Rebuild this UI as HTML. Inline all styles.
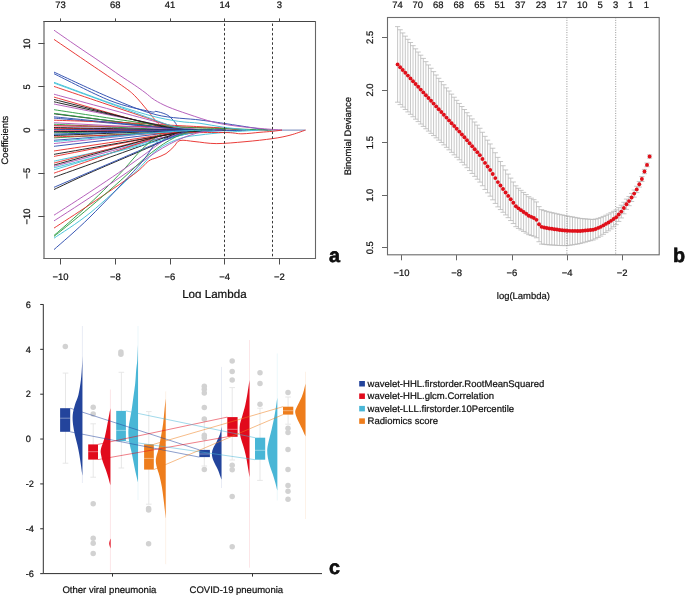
<!DOCTYPE html>
<html><head><meta charset="utf-8"><title>Figure</title>
<style>html,body{margin:0;padding:0;background:#fff;}body{width:685px;height:596px;overflow:hidden;font-family:"Liberation Sans",sans-serif;}svg{display:block;will-change:transform;text-rendering:geometricPrecision;}</style>
</head><body>
<svg width="685" height="596" viewBox="0 0 685 596" font-family='"Liberation Sans", sans-serif' fill="#111"><rect width="685" height="596" fill="#fff"/><style>text{stroke:#111;stroke-width:0.22px;}</style><g><line x1="232" y1="130.1" x2="305.5" y2="130.1" stroke="#8e9cc6" stroke-width="1.4"/><line x1="172" y1="130.3" x2="236" y2="130.3" stroke="#33427e" stroke-width="1.3"/><path d="M54,161.17 C55.3,160.89 59.19,160.05 61.78,159.5 C64.38,158.94 66.97,158.38 69.57,157.83 C72.16,157.27 74.76,156.71 77.35,156.16 C79.94,155.6 82.54,155.04 85.13,154.49 C87.73,153.93 90.32,153.37 92.92,152.82 C95.51,152.26 98.1,151.7 100.7,151.15 C103.29,150.59 105.89,150.03 108.48,149.48 C111.08,148.92 113.67,148.36 116.27,147.81 C118.86,147.25 121.45,146.7 124.05,146.14 C126.64,145.58 129.24,145.03 131.83,144.47 C134.43,143.91 137.02,143.36 139.62,142.8 C142.21,142.24 144.8,141.69 147.4,141.13 C149.99,140.57 152.59,140.01 155.18,139.46 C157.78,138.91 160.37,138.35 162.97,137.84 C165.56,137.32 168.15,136.83 170.75,136.37 C173.34,135.9 175.94,135.46 178.53,135.05 C181.13,134.64 183.72,134.25 186.31,133.89 C188.91,133.53 191.5,133.19 194.1,132.89 C196.69,132.58 199.29,132.29 201.88,132.03 C204.48,131.78 207.07,131.54 209.66,131.34 C212.26,131.13 214.85,130.95 217.45,130.8 C220.04,130.64 222.64,130.51 225.23,130.41 C227.83,130.31 230.42,130.23 233.01,130.18 C235.61,130.13 239.5,130.11 240.8,130.1" fill="none" stroke="#45c2d8" stroke-width="0.95"/><path d="M54,146.32 C55.17,146.19 58.66,145.77 61,145.5 C63.33,145.22 65.66,144.95 67.99,144.67 C70.33,144.4 72.66,144.12 74.99,143.84 C77.32,143.57 79.66,143.29 81.99,143.02 C84.32,142.74 86.65,142.47 88.98,142.19 C91.32,141.91 93.65,141.64 95.98,141.36 C98.31,141.09 100.65,140.81 102.98,140.54 C105.31,140.26 107.64,139.99 109.98,139.71 C112.31,139.43 114.64,139.16 116.97,138.88 C119.31,138.61 121.64,138.33 123.97,138.06 C126.3,137.78 128.63,137.5 130.97,137.23 C133.3,136.95 135.63,136.68 137.96,136.4 C140.3,136.13 142.63,135.85 144.96,135.58 C147.29,135.3 149.63,135.02 151.96,134.75 C154.29,134.47 156.62,134.19 158.95,133.92 C161.29,133.65 163.62,133.37 165.95,133.12 C168.28,132.87 170.62,132.63 172.95,132.41 C175.28,132.19 177.61,131.99 179.95,131.8 C182.28,131.61 184.61,131.44 186.94,131.28 C189.27,131.12 191.61,130.98 193.94,130.86 C196.27,130.73 198.6,130.62 200.94,130.52 C203.27,130.43 205.6,130.35 207.93,130.29 C210.27,130.23 212.6,130.18 214.93,130.15 C217.26,130.12 220.76,130.11 221.93,130.1" fill="none" stroke="#2f4fb0" stroke-width="0.95"/><path d="M54,113.79 C55.17,113.94 58.68,114.37 61.02,114.67 C63.36,114.96 65.7,115.25 68.04,115.54 C70.38,115.84 72.72,116.13 75.06,116.42 C77.4,116.71 79.74,117.01 82.08,117.3 C84.42,117.59 86.76,117.88 89.1,118.17 C91.44,118.47 93.78,118.76 96.12,119.05 C98.46,119.34 100.8,119.64 103.14,119.93 C105.48,120.22 107.82,120.51 110.16,120.81 C112.5,121.1 114.84,121.39 117.18,121.68 C119.52,121.98 121.86,122.27 124.2,122.56 C126.54,122.85 128.88,123.15 131.22,123.44 C133.56,123.73 135.9,124.02 138.24,124.31 C140.58,124.61 142.92,124.9 145.26,125.19 C147.6,125.48 149.94,125.77 152.28,126.04 C154.62,126.31 156.96,126.57 159.3,126.81 C161.64,127.06 163.98,127.29 166.32,127.5 C168.66,127.72 171,127.92 173.34,128.11 C175.68,128.3 178.02,128.48 180.36,128.64 C182.7,128.8 185.04,128.95 187.38,129.09 C189.72,129.22 192.06,129.34 194.4,129.45 C196.74,129.56 199.08,129.65 201.42,129.73 C203.76,129.82 206.1,129.88 208.44,129.94 C210.78,129.99 213.12,130.03 215.46,130.06 C217.8,130.09 221.31,130.09 222.48,130.1" fill="none" stroke="#1e1e1e" stroke-width="0.95"/><path d="M54,39.4 C60,43.48 78.72,56.23 90,63.9 C101.28,71.57 114.32,80.17 121.7,85.4 C129.08,90.63 129.97,91.08 134.3,95.3 C138.63,99.52 143.78,106.05 147.7,110.7 C151.62,115.35 155,120.28 157.8,123.2 C160.6,126.12 162.13,127.13 164.5,128.2 C166.87,129.27 169.08,129.28 172,129.6 C174.92,129.92 180.33,130.02 182,130.1" fill="none" stroke="#e8332f" stroke-width="0.95"/><path d="M54,94.2 C55.09,94.49 58.37,95.38 60.56,95.97 C62.74,96.56 64.93,97.16 67.11,97.75 C69.3,98.34 71.49,98.93 73.67,99.52 C75.86,100.11 78.04,100.7 80.23,101.29 C82.42,101.89 84.6,102.48 86.79,103.07 C88.97,103.66 91.16,104.25 93.34,104.84 C95.53,105.43 97.72,106.02 99.9,106.62 C102.09,107.21 104.27,107.8 106.46,108.39 C108.65,108.98 110.83,109.57 113.02,110.16 C115.2,110.75 117.39,111.35 119.57,111.94 C121.76,112.53 123.95,113.12 126.13,113.71 C128.32,114.3 130.5,114.89 132.69,115.49 C134.88,116.08 137.06,116.67 139.25,117.26 C141.43,117.85 143.62,118.44 145.8,119.03 C147.99,119.62 150.18,120.22 152.36,120.81 C154.55,121.4 156.73,121.99 158.92,122.58 C161.11,123.17 163.29,123.78 165.48,124.32 C167.66,124.87 169.85,125.38 172.03,125.86 C174.22,126.33 176.41,126.76 178.59,127.15 C180.78,127.55 182.96,127.9 185.15,128.21 C187.34,128.53 189.52,128.8 191.71,129.04 C193.89,129.27 196.08,129.47 198.26,129.63 C200.45,129.79 202.64,129.9 204.82,129.98 C207.01,130.06 210.29,130.08 211.38,130.1" fill="none" stroke="#b25ab8" stroke-width="0.95"/><path d="M54,169.8 C55.15,169.46 58.61,168.43 60.91,167.75 C63.21,167.06 65.52,166.38 67.82,165.69 C70.12,165.01 72.43,164.33 74.73,163.64 C77.04,162.96 79.34,162.28 81.64,161.59 C83.95,160.91 86.25,160.22 88.55,159.54 C90.86,158.86 93.16,158.17 95.46,157.49 C97.77,156.8 100.07,156.12 102.37,155.44 C104.68,154.75 106.98,154.07 109.29,153.38 C111.59,152.7 113.89,152.02 116.2,151.33 C118.5,150.65 120.8,149.97 123.11,149.28 C125.41,148.6 127.71,147.91 130.02,147.23 C132.32,146.55 134.62,145.86 136.93,145.18 C139.23,144.49 141.53,143.81 143.84,143.13 C146.14,142.44 148.45,141.76 150.75,141.07 C153.05,140.39 155.36,139.69 157.66,139.03 C159.96,138.38 162.27,137.75 164.57,137.16 C166.87,136.57 169.18,136.02 171.48,135.5 C173.78,134.99 176.09,134.51 178.39,134.07 C180.7,133.63 183,133.22 185.3,132.86 C187.61,132.49 189.91,132.16 192.21,131.86 C194.52,131.57 196.82,131.31 199.12,131.09 C201.43,130.87 203.73,130.69 206.03,130.54 C208.34,130.39 210.64,130.28 212.94,130.21 C215.25,130.14 218.7,130.12 219.86,130.1" fill="none" stroke="#45c2d8" stroke-width="0.95"/><path d="M54,163.07 C55.11,162.78 58.46,161.93 60.69,161.36 C62.92,160.8 65.15,160.23 67.37,159.66 C69.6,159.09 71.83,158.53 74.06,157.96 C76.29,157.39 78.52,156.82 80.75,156.26 C82.98,155.69 85.21,155.12 87.44,154.55 C89.67,153.99 91.9,153.42 94.12,152.85 C96.35,152.28 98.58,151.72 100.81,151.15 C103.04,150.58 105.27,150.01 107.5,149.45 C109.73,148.88 111.96,148.31 114.19,147.74 C116.42,147.18 118.65,146.61 120.87,146.04 C123.1,145.47 125.33,144.9 127.56,144.34 C129.79,143.77 132.02,143.2 134.25,142.63 C136.48,142.07 138.71,141.5 140.94,140.93 C143.17,140.36 145.4,139.8 147.62,139.23 C149.85,138.66 152.08,138.08 154.31,137.53 C156.54,136.99 158.77,136.46 161,135.97 C163.23,135.48 165.46,135.03 167.69,134.6 C169.92,134.17 172.15,133.77 174.37,133.4 C176.6,133.04 178.83,132.7 181.06,132.39 C183.29,132.09 185.52,131.81 187.75,131.57 C189.98,131.32 192.21,131.11 194.44,130.93 C196.67,130.74 198.89,130.59 201.12,130.47 C203.35,130.34 205.58,130.25 207.81,130.19 C210.04,130.13 213.38,130.12 214.5,130.1" fill="none" stroke="#e8332f" stroke-width="0.95"/><path d="M54,156.42 C55.13,156.2 58.53,155.54 60.79,155.1 C63.06,154.66 65.32,154.22 67.58,153.78 C69.85,153.35 72.11,152.91 74.38,152.47 C76.64,152.03 78.9,151.59 81.17,151.15 C83.43,150.71 85.7,150.27 87.96,149.83 C90.22,149.39 92.49,148.95 94.75,148.51 C97.02,148.07 99.28,147.63 101.54,147.19 C103.81,146.75 106.07,146.31 108.33,145.87 C110.6,145.43 112.86,145 115.13,144.56 C117.39,144.12 119.65,143.68 121.92,143.24 C124.18,142.8 126.45,142.36 128.71,141.92 C130.97,141.48 133.24,141.04 135.5,140.6 C137.77,140.16 140.03,139.72 142.29,139.28 C144.56,138.84 146.82,138.4 149.09,137.96 C151.35,137.52 153.61,137.08 155.88,136.65 C158.14,136.21 160.41,135.75 162.67,135.33 C164.93,134.9 167.2,134.48 169.46,134.1 C171.73,133.72 173.99,133.37 176.25,133.04 C178.52,132.71 180.78,132.41 183.05,132.14 C185.31,131.87 187.57,131.62 189.84,131.41 C192.1,131.19 194.37,131 196.63,130.84 C198.89,130.67 201.16,130.54 203.42,130.43 C205.68,130.32 207.95,130.24 210.21,130.18 C212.48,130.13 215.87,130.11 217,130.1" fill="none" stroke="#e8332f" stroke-width="0.95"/><path d="M54,125.53 C55.2,125.57 58.79,125.69 61.19,125.77 C63.58,125.85 65.98,125.93 68.38,126.01 C70.77,126.09 73.17,126.17 75.56,126.25 C77.96,126.33 80.36,126.41 82.75,126.49 C85.15,126.57 87.54,126.65 89.94,126.73 C92.34,126.81 94.73,126.89 97.13,126.97 C99.52,127.06 101.92,127.14 104.32,127.22 C106.71,127.3 109.11,127.38 111.5,127.46 C113.9,127.54 116.3,127.62 118.69,127.7 C121.09,127.78 123.48,127.86 125.88,127.94 C128.28,128.02 130.67,128.1 133.07,128.18 C135.46,128.26 137.86,128.34 140.26,128.42 C142.65,128.5 145.05,128.58 147.44,128.66 C149.84,128.75 152.24,128.83 154.63,128.91 C157.03,128.98 159.43,129.06 161.82,129.13 C164.22,129.2 166.61,129.27 169.01,129.34 C171.41,129.4 173.8,129.46 176.2,129.52 C178.59,129.57 180.99,129.62 183.39,129.67 C185.78,129.72 188.18,129.76 190.57,129.8 C192.97,129.84 195.37,129.88 197.76,129.91 C200.16,129.94 202.55,129.97 204.95,129.99 C207.35,130.02 209.74,130.04 212.14,130.05 C214.53,130.07 216.93,130.08 219.33,130.09 C221.72,130.1 225.32,130.1 226.51,130.1" fill="none" stroke="#b25ab8" stroke-width="0.95"/><path d="M54,143.56 C55.07,143.45 58.3,143.1 60.45,142.87 C62.6,142.64 64.75,142.4 66.9,142.17 C69.05,141.94 71.2,141.71 73.35,141.48 C75.5,141.24 77.64,141.01 79.79,140.78 C81.94,140.55 84.09,140.32 86.24,140.08 C88.39,139.85 90.54,139.62 92.69,139.39 C94.84,139.16 96.99,138.92 99.14,138.69 C101.29,138.46 103.44,138.23 105.59,138 C107.74,137.77 109.89,137.53 112.04,137.3 C114.19,137.07 116.34,136.84 118.49,136.61 C120.64,136.37 122.79,136.14 124.93,135.91 C127.08,135.68 129.23,135.45 131.38,135.21 C133.53,134.98 135.68,134.75 137.83,134.52 C139.98,134.29 142.13,134.05 144.28,133.82 C146.43,133.59 148.58,133.35 150.73,133.13 C152.88,132.91 155.03,132.69 157.18,132.49 C159.33,132.29 161.48,132.11 163.63,131.93 C165.78,131.76 167.93,131.6 170.08,131.45 C172.22,131.3 174.37,131.16 176.52,131.04 C178.67,130.91 180.82,130.8 182.97,130.7 C185.12,130.6 187.27,130.51 189.42,130.44 C191.57,130.36 193.72,130.3 195.87,130.25 C198.02,130.2 200.17,130.16 202.32,130.14 C204.47,130.11 207.69,130.11 208.77,130.1" fill="none" stroke="#b25ab8" stroke-width="0.95"/><path d="M54,128.2 C55.09,128.22 58.38,128.26 60.57,128.3 C62.76,128.33 64.95,128.36 67.13,128.39 C69.32,128.42 71.51,128.45 73.7,128.48 C75.89,128.51 78.08,128.55 80.27,128.58 C82.46,128.61 84.65,128.64 86.84,128.67 C89.02,128.7 91.21,128.73 93.4,128.76 C95.59,128.8 97.78,128.83 99.97,128.86 C102.16,128.89 104.35,128.92 106.54,128.95 C108.73,128.98 110.92,129.02 113.1,129.05 C115.29,129.08 117.48,129.11 119.67,129.14 C121.86,129.17 124.05,129.2 126.24,129.23 C128.43,129.27 130.62,129.3 132.81,129.33 C135,129.36 137.18,129.39 139.37,129.42 C141.56,129.45 143.75,129.48 145.94,129.52 C148.13,129.55 150.32,129.58 152.51,129.61 C154.7,129.64 156.89,129.67 159.07,129.7 C161.26,129.73 163.45,129.77 165.64,129.8 C167.83,129.82 170.02,129.85 172.21,129.88 C174.4,129.9 176.59,129.92 178.78,129.94 C180.97,129.97 183.15,129.98 185.34,130 C187.53,130.02 189.72,130.03 191.91,130.04 C194.1,130.06 196.29,130.07 198.48,130.08 C200.67,130.08 202.86,130.09 205.04,130.09 C207.23,130.1 210.52,130.1 211.61,130.1" fill="none" stroke="#e8332f" stroke-width="0.95"/><path d="M54,189.5 C60,186.72 73.05,180.32 90,172.8 C106.95,165.28 143.17,150.13 155.7,144.4 C168.23,138.67 161.15,140.3 165.2,138.4 C169.25,136.5 174.87,134.38 180,133 C185.13,131.62 193.33,130.58 196,130.1" fill="none" stroke="#1e1e1e" stroke-width="0.95"/><path d="M54,104.04 C55.16,104.27 58.63,104.96 60.95,105.42 C63.27,105.87 65.59,106.33 67.9,106.79 C70.22,107.25 72.54,107.71 74.85,108.17 C77.17,108.63 79.49,109.09 81.81,109.55 C84.12,110.01 86.44,110.47 88.76,110.93 C91.08,111.39 93.39,111.85 95.71,112.3 C98.03,112.76 100.34,113.22 102.66,113.68 C104.98,114.14 107.3,114.6 109.61,115.06 C111.93,115.52 114.25,115.98 116.56,116.44 C118.88,116.9 121.2,117.36 123.52,117.82 C125.83,118.28 128.15,118.73 130.47,119.19 C132.79,119.65 135.1,120.11 137.42,120.57 C139.74,121.03 142.05,121.49 144.37,121.95 C146.69,122.41 149.01,122.88 151.32,123.33 C153.64,123.77 155.96,124.21 158.27,124.61 C160.59,125.02 162.91,125.4 165.23,125.76 C167.54,126.13 169.86,126.46 172.18,126.78 C174.5,127.1 176.81,127.39 179.13,127.66 C181.45,127.93 183.76,128.18 186.08,128.41 C188.4,128.63 190.72,128.84 193.03,129.02 C195.35,129.2 197.67,129.35 199.98,129.49 C202.3,129.63 204.62,129.74 206.94,129.83 C209.25,129.92 211.57,129.99 213.89,130.03 C216.2,130.08 219.68,130.09 220.84,130.1" fill="none" stroke="#b25ab8" stroke-width="0.95"/><path d="M54,118.1 C55.06,118.2 58.25,118.48 60.37,118.67 C62.5,118.86 64.62,119.04 66.74,119.23 C68.87,119.42 70.99,119.61 73.12,119.8 C75.24,119.98 77.36,120.17 79.49,120.36 C81.61,120.55 83.74,120.74 85.86,120.92 C87.98,121.11 90.11,121.3 92.23,121.49 C94.36,121.68 96.48,121.86 98.6,122.05 C100.73,122.24 102.85,122.43 104.97,122.62 C107.1,122.8 109.22,122.99 111.35,123.18 C113.47,123.37 115.59,123.56 117.72,123.74 C119.84,123.93 121.97,124.12 124.09,124.31 C126.21,124.5 128.34,124.68 130.46,124.87 C132.59,125.06 134.71,125.25 136.83,125.44 C138.96,125.62 141.08,125.81 143.21,126 C145.33,126.19 147.45,126.38 149.58,126.56 C151.7,126.75 153.83,126.94 155.95,127.13 C158.07,127.32 160.2,127.5 162.32,127.69 C164.45,127.88 166.57,128.07 168.69,128.26 C170.82,128.44 172.94,128.64 175.07,128.81 C177.19,128.98 179.31,129.14 181.44,129.27 C183.56,129.41 185.68,129.53 187.81,129.64 C189.93,129.74 192.06,129.82 194.18,129.89 C196.3,129.96 198.43,130.01 200.55,130.05 C202.68,130.08 205.86,130.09 206.92,130.1" fill="none" stroke="#2f4fb0" stroke-width="0.95"/><path d="M54,113.36 C55.02,113.49 58.08,113.9 60.11,114.17 C62.15,114.44 64.19,114.71 66.23,114.98 C68.27,115.25 70.3,115.52 72.34,115.79 C74.38,116.06 76.42,116.33 78.46,116.6 C80.49,116.86 82.53,117.13 84.57,117.4 C86.61,117.67 88.65,117.94 90.68,118.21 C92.72,118.48 94.76,118.75 96.8,119.02 C98.84,119.29 100.87,119.56 102.91,119.83 C104.95,120.1 106.99,120.37 109.03,120.64 C111.06,120.91 113.1,121.18 115.14,121.45 C117.18,121.72 119.22,121.99 121.25,122.26 C123.29,122.53 125.33,122.8 127.37,123.07 C129.41,123.34 131.44,123.61 133.48,123.88 C135.52,124.15 137.56,124.42 139.6,124.69 C141.63,124.96 143.67,125.23 145.71,125.5 C147.75,125.77 149.79,126.04 151.82,126.31 C153.86,126.58 155.9,126.85 157.94,127.12 C159.98,127.38 162.01,127.66 164.05,127.9 C166.09,128.14 168.13,128.37 170.17,128.57 C172.2,128.78 174.24,128.96 176.28,129.12 C178.32,129.29 180.36,129.43 182.39,129.55 C184.43,129.67 186.47,129.77 188.51,129.86 C190.55,129.94 192.58,130 194.62,130.04 C196.66,130.08 199.72,130.09 200.74,130.1" fill="none" stroke="#2f9e44" stroke-width="0.95"/><path d="M54,97.05 C55,97.34 58.01,98.21 60.01,98.8 C62.02,99.38 64.02,99.96 66.03,100.54 C68.03,101.12 70.04,101.7 72.04,102.28 C74.05,102.86 76.05,103.44 78.06,104.02 C80.06,104.59 82.07,105.17 84.07,105.75 C86.08,106.32 88.08,106.9 90.09,107.47 C92.09,108.04 94.1,108.61 96.1,109.19 C98.1,109.76 100.11,110.33 102.11,110.9 C104.12,111.47 106.12,112.03 108.13,112.6 C110.13,113.17 112.14,113.73 114.14,114.29 C116.15,114.86 118.15,115.42 120.16,115.98 C122.16,116.54 124.17,117.1 126.17,117.66 C128.18,118.22 130.18,118.77 132.19,119.33 C134.19,119.88 136.2,120.43 138.2,120.98 C140.2,121.53 142.21,122.08 144.21,122.62 C146.22,123.16 148.22,123.72 150.23,124.23 C152.23,124.74 154.24,125.22 156.24,125.66 C158.25,126.11 160.25,126.52 162.26,126.89 C164.26,127.27 166.27,127.61 168.27,127.91 C170.28,128.22 172.28,128.49 174.29,128.73 C176.29,128.97 178.3,129.18 180.3,129.35 C182.3,129.53 184.31,129.67 186.31,129.78 C188.32,129.89 190.32,129.97 192.33,130.03 C194.33,130.08 197.34,130.09 198.34,130.1" fill="none" stroke="#e8332f" stroke-width="0.95"/><path d="M54,73.7 C63.33,78.18 94.1,94.32 110,100.6 C125.9,106.88 141.73,109.6 149.4,111.4 C157.07,113.2 153.37,110.97 156,111.4 C158.63,111.83 162.8,113.02 165.2,114 C167.6,114.98 168.65,115.75 170.4,117.3 C172.15,118.85 174.38,121.53 175.7,123.3 C177.02,125.07 176.58,126.77 178.3,127.9 C180.02,129.03 184.72,129.73 186,130.1" fill="none" stroke="#2f4fb0" stroke-width="0.95"/><path d="M54,166.35 C55.22,166.02 58.87,165.04 61.3,164.38 C63.74,163.73 66.17,163.08 68.6,162.42 C71.04,161.77 73.47,161.12 75.91,160.46 C78.34,159.81 80.78,159.15 83.21,158.5 C85.64,157.85 88.08,157.19 90.51,156.54 C92.95,155.88 95.38,155.23 97.81,154.58 C100.25,153.92 102.68,153.27 105.12,152.62 C107.55,151.96 109.99,151.31 112.42,150.65 C114.85,150 117.29,149.35 119.72,148.69 C122.16,148.04 124.59,147.39 127.02,146.73 C129.46,146.08 131.89,145.42 134.33,144.77 C136.76,144.12 139.19,143.46 141.63,142.81 C144.06,142.15 146.5,141.49 148.93,140.85 C151.37,140.21 153.8,139.57 156.23,138.98 C158.67,138.39 161.1,137.83 163.54,137.29 C165.97,136.76 168.4,136.26 170.84,135.78 C173.27,135.31 175.71,134.87 178.14,134.45 C180.57,134.04 183.01,133.65 185.44,133.3 C187.88,132.94 190.31,132.62 192.75,132.32 C195.18,132.02 197.61,131.76 200.05,131.52 C202.48,131.28 204.92,131.08 207.35,130.9 C209.78,130.72 212.22,130.57 214.65,130.46 C217.09,130.34 219.52,130.25 221.96,130.19 C224.39,130.13 228.04,130.11 229.26,130.1" fill="none" stroke="#b25ab8" stroke-width="0.95"/><path d="M54,137.87 C55.14,137.81 58.55,137.62 60.83,137.5 C63.1,137.37 65.38,137.25 67.66,137.13 C69.93,137.01 72.21,136.88 74.49,136.76 C76.76,136.64 79.04,136.51 81.31,136.39 C83.59,136.27 85.87,136.14 88.14,136.02 C90.42,135.9 92.7,135.77 94.97,135.65 C97.25,135.53 99.52,135.4 101.8,135.28 C104.08,135.16 106.35,135.04 108.63,134.91 C110.91,134.79 113.18,134.67 115.46,134.54 C117.73,134.42 120.01,134.3 122.29,134.17 C124.56,134.05 126.84,133.93 129.12,133.8 C131.39,133.68 133.67,133.56 135.94,133.43 C138.22,133.31 140.5,133.19 142.77,133.07 C145.05,132.94 147.32,132.82 149.6,132.7 C151.88,132.57 154.15,132.45 156.43,132.33 C158.71,132.2 160.98,132.08 163.26,131.96 C165.53,131.83 167.81,131.71 170.09,131.59 C172.36,131.47 174.64,131.34 176.92,131.22 C179.19,131.1 181.47,130.98 183.74,130.88 C186.02,130.77 188.3,130.68 190.57,130.6 C192.85,130.51 195.13,130.44 197.4,130.38 C199.68,130.32 201.95,130.27 204.23,130.22 C206.51,130.18 208.78,130.15 211.06,130.13 C213.34,130.11 216.75,130.11 217.89,130.1" fill="none" stroke="#2f9e44" stroke-width="0.95"/><path d="M54,124.23 C54.96,124.28 57.83,124.42 59.75,124.51 C61.66,124.6 63.58,124.7 65.5,124.79 C67.41,124.88 69.33,124.98 71.24,125.07 C73.16,125.16 75.08,125.25 76.99,125.35 C78.91,125.44 80.82,125.53 82.74,125.63 C84.66,125.72 86.57,125.81 88.49,125.91 C90.4,126 92.32,126.09 94.24,126.18 C96.15,126.28 98.07,126.37 99.98,126.46 C101.9,126.56 103.82,126.65 105.73,126.74 C107.65,126.84 109.56,126.93 111.48,127.02 C113.4,127.12 115.31,127.21 117.23,127.3 C119.15,127.39 121.06,127.49 122.98,127.58 C124.89,127.67 126.81,127.77 128.73,127.86 C130.64,127.95 132.56,128.05 134.47,128.14 C136.39,128.23 138.31,128.32 140.22,128.42 C142.14,128.51 144.05,128.6 145.97,128.7 C147.89,128.79 149.8,128.88 151.72,128.98 C153.63,129.07 155.55,129.16 157.47,129.25 C159.38,129.34 161.3,129.43 163.21,129.51 C165.13,129.59 167.05,129.66 168.96,129.72 C170.88,129.79 172.79,129.84 174.71,129.89 C176.63,129.94 178.54,129.97 180.46,130.01 C182.37,130.04 184.29,130.06 186.21,130.08 C188.12,130.09 191,130.1 191.95,130.1" fill="none" stroke="#2f9e44" stroke-width="0.95"/><path d="M54,125.8 C65,125.88 100.67,126.12 120,126.3 C139.33,126.48 156.67,126.68 170,126.9 C183.33,127.12 190.33,127.32 200,127.6 C209.67,127.88 220,128.18 228,128.6 C236,129.02 244.67,129.85 248,130.1" fill="none" stroke="#e8332f" stroke-width="0.95"/><path d="M54,72.1 C63.33,76.35 93,90.5 110,97.6 C127,104.7 141,110.97 156,114.7 C171,118.43 188.67,118.55 200,120 C211.33,121.45 214.33,121.97 224,123.4 C233.67,124.83 250.67,127.48 258,128.6 C265.33,129.72 266.33,129.85 268,130.1" fill="none" stroke="#2f4fb0" stroke-width="0.95"/><path d="M54,86.43 C55.02,86.78 58.06,87.81 60.09,88.49 C62.12,89.18 64.15,89.87 66.18,90.56 C68.21,91.24 70.24,91.93 72.27,92.62 C74.3,93.3 76.33,93.99 78.36,94.68 C80.39,95.37 82.42,96.05 84.45,96.74 C86.49,97.43 88.52,98.11 90.55,98.8 C92.58,99.49 94.61,100.18 96.64,100.86 C98.67,101.55 100.7,102.24 102.73,102.92 C104.76,103.61 106.79,104.3 108.82,104.99 C110.85,105.67 112.88,106.36 114.91,107.05 C116.94,107.73 118.97,108.42 121,109.11 C123.03,109.8 125.06,110.48 127.09,111.17 C129.12,111.86 131.15,112.55 133.18,113.23 C135.21,113.92 137.24,114.61 139.27,115.29 C141.3,115.98 143.33,116.67 145.36,117.36 C147.39,118.04 149.43,118.73 151.46,119.42 C153.49,120.1 155.52,120.79 157.55,121.48 C159.58,122.17 161.61,122.87 163.64,123.54 C165.67,124.22 167.7,124.92 169.73,125.53 C171.76,126.13 173.79,126.69 175.82,127.17 C177.85,127.66 179.88,128.09 181.91,128.45 C183.94,128.82 185.97,129.12 188,129.37 C190.03,129.61 192.06,129.8 194.09,129.92 C196.12,130.04 199.17,130.07 200.18,130.1" fill="none" stroke="#e8332f" stroke-width="0.95"/><path d="M54,132.86 C55.19,132.84 58.77,132.77 61.16,132.72 C63.54,132.67 65.93,132.62 68.32,132.57 C70.7,132.53 73.09,132.48 75.47,132.43 C77.86,132.38 80.24,132.34 82.63,132.29 C85.02,132.24 87.4,132.19 89.79,132.14 C92.17,132.1 94.56,132.05 96.95,132 C99.33,131.95 101.72,131.91 104.1,131.86 C106.49,131.81 108.88,131.76 111.26,131.71 C113.65,131.67 116.03,131.62 118.42,131.57 C120.8,131.52 123.19,131.48 125.58,131.43 C127.96,131.38 130.35,131.33 132.73,131.28 C135.12,131.24 137.51,131.19 139.89,131.14 C142.28,131.09 144.66,131.05 147.05,131 C149.43,130.95 151.82,130.9 154.21,130.85 C156.59,130.81 158.98,130.76 161.36,130.71 C163.75,130.67 166.14,130.62 168.52,130.58 C170.91,130.54 173.29,130.51 175.68,130.47 C178.07,130.44 180.45,130.4 182.84,130.37 C185.22,130.34 187.61,130.31 189.99,130.29 C192.38,130.26 194.77,130.24 197.15,130.22 C199.54,130.2 201.92,130.18 204.31,130.17 C206.7,130.15 209.08,130.14 211.47,130.13 C213.85,130.12 216.24,130.11 218.63,130.11 C221.01,130.1 224.59,130.1 225.78,130.1" fill="none" stroke="#2f9e44" stroke-width="0.95"/><path d="M54,177.22 C55.04,176.85 58.16,175.73 60.25,174.98 C62.33,174.23 64.41,173.49 66.49,172.74 C68.57,171.99 70.65,171.25 72.74,170.5 C74.82,169.75 76.9,169.01 78.98,168.26 C81.06,167.51 83.15,166.77 85.23,166.02 C87.31,165.27 89.39,164.52 91.47,163.78 C93.56,163.03 95.64,162.28 97.72,161.54 C99.8,160.79 101.88,160.04 103.96,159.3 C106.05,158.55 108.13,157.8 110.21,157.06 C112.29,156.31 114.37,155.56 116.46,154.82 C118.54,154.07 120.62,153.32 122.7,152.58 C124.78,151.83 126.86,151.08 128.95,150.34 C131.03,149.59 133.11,148.84 135.19,148.1 C137.27,147.35 139.36,146.6 141.44,145.86 C143.52,145.11 145.6,144.36 147.68,143.62 C149.76,142.87 151.85,142.12 153.93,141.37 C156.01,140.63 158.09,139.88 160.17,139.13 C162.26,138.39 164.34,137.61 166.42,136.89 C168.5,136.18 170.58,135.45 172.67,134.82 C174.75,134.19 176.83,133.62 178.91,133.12 C180.99,132.62 183.07,132.18 185.16,131.8 C187.24,131.42 189.32,131.11 191.4,130.86 C193.48,130.6 195.57,130.41 197.65,130.29 C199.73,130.16 202.85,130.13 203.89,130.1" fill="none" stroke="#1e1e1e" stroke-width="0.95"/><path d="M54,131.14 C55.11,131.13 58.43,131.1 60.65,131.08 C62.87,131.07 65.09,131.05 67.3,131.03 C69.52,131.01 71.74,130.99 73.96,130.98 C76.17,130.96 78.39,130.94 80.61,130.92 C82.83,130.91 85.04,130.89 87.26,130.87 C89.48,130.85 91.69,130.84 93.91,130.82 C96.13,130.8 98.35,130.78 100.56,130.77 C102.78,130.75 105,130.73 107.22,130.71 C109.43,130.69 111.65,130.68 113.87,130.66 C116.09,130.64 118.3,130.62 120.52,130.61 C122.74,130.59 124.96,130.57 127.17,130.55 C129.39,130.54 131.61,130.52 133.82,130.5 C136.04,130.48 138.26,130.47 140.48,130.45 C142.69,130.43 144.91,130.41 147.13,130.4 C149.35,130.38 151.56,130.36 153.78,130.34 C156,130.33 158.22,130.31 160.43,130.29 C162.65,130.28 164.87,130.26 167.08,130.25 C169.3,130.23 171.52,130.22 173.74,130.21 C175.95,130.2 178.17,130.18 180.39,130.17 C182.61,130.16 184.82,130.16 187.04,130.15 C189.26,130.14 191.48,130.13 193.69,130.13 C195.91,130.12 198.13,130.12 200.34,130.11 C202.56,130.11 204.78,130.1 207,130.1 C209.21,130.1 212.54,130.1 213.65,130.1" fill="none" stroke="#b25ab8" stroke-width="0.95"/><path d="M54,173.16 C55.02,172.8 58.09,171.72 60.14,171 C62.18,170.29 64.23,169.57 66.28,168.85 C68.32,168.13 70.37,167.41 72.42,166.69 C74.46,165.97 76.51,165.25 78.55,164.53 C80.6,163.81 82.65,163.09 84.69,162.37 C86.74,161.65 88.78,160.93 90.83,160.21 C92.88,159.49 94.92,158.77 96.97,158.05 C99.01,157.33 101.06,156.61 103.11,155.89 C105.15,155.17 107.2,154.45 109.25,153.73 C111.29,153.02 113.34,152.3 115.38,151.58 C117.43,150.86 119.48,150.14 121.52,149.42 C123.57,148.7 125.61,147.98 127.66,147.26 C129.71,146.54 131.75,145.82 133.8,145.1 C135.85,144.38 137.89,143.66 139.94,142.94 C141.98,142.22 144.03,141.5 146.08,140.78 C148.12,140.06 150.17,139.32 152.21,138.63 C154.26,137.93 156.31,137.25 158.35,136.63 C160.4,136.01 162.45,135.43 164.49,134.9 C166.54,134.36 168.58,133.87 170.63,133.43 C172.68,132.99 174.72,132.59 176.77,132.23 C178.81,131.88 180.86,131.57 182.91,131.3 C184.95,131.03 187,130.81 189.04,130.63 C191.09,130.46 193.14,130.32 195.18,130.23 C197.23,130.14 200.3,130.12 201.32,130.1" fill="none" stroke="#e8332f" stroke-width="0.95"/><path d="M54,120.2 C65,120.58 100.67,121.67 120,122.5 C139.33,123.33 156.67,124.5 170,125.2 C183.33,125.9 190.83,126.2 200,126.7 C209.17,127.2 218,127.63 225,128.2 C232,128.77 239.17,129.78 242,130.1" fill="none" stroke="#e8332f" stroke-width="0.95"/><path d="M54,131.6 C65,131.57 100.67,131.48 120,131.4 C139.33,131.32 155.83,131.18 170,131.1 C184.17,131.02 194.67,131 205,130.9 C215.33,130.8 225.17,130.63 232,130.5 C238.83,130.37 243.67,130.17 246,130.1" fill="none" stroke="#2f4fb0" stroke-width="0.95"/><path d="M54,99.46 C55,99.72 58.02,100.48 60.03,100.99 C62.04,101.5 64.05,102.01 66.06,102.52 C68.06,103.03 70.07,103.54 72.08,104.05 C74.09,104.56 76.1,105.07 78.11,105.58 C80.12,106.09 82.13,106.6 84.14,107.11 C86.15,107.62 88.16,108.13 90.17,108.64 C92.18,109.15 94.18,109.66 96.19,110.17 C98.2,110.68 100.21,111.19 102.22,111.7 C104.23,112.21 106.24,112.72 108.25,113.23 C110.26,113.74 112.27,114.25 114.28,114.76 C116.29,115.27 118.3,115.78 120.3,116.29 C122.31,116.8 124.32,117.31 126.33,117.82 C128.34,118.33 130.35,118.84 132.36,119.34 C134.37,119.85 136.38,120.36 138.39,120.87 C140.4,121.38 142.41,121.89 144.42,122.4 C146.42,122.91 148.43,123.44 150.44,123.93 C152.45,124.43 154.46,124.93 156.47,125.38 C158.48,125.83 160.49,126.25 162.5,126.63 C164.51,127.02 166.52,127.37 168.53,127.69 C170.54,128.01 172.55,128.3 174.55,128.56 C176.56,128.82 178.57,129.04 180.58,129.23 C182.59,129.43 184.6,129.59 186.61,129.71 C188.62,129.84 190.63,129.94 192.64,130 C194.65,130.07 197.66,130.08 198.67,130.1" fill="none" stroke="#1e1e1e" stroke-width="0.95"/><path d="M54,150.98 C55.14,150.81 58.56,150.3 60.84,149.96 C63.12,149.62 65.4,149.28 67.68,148.94 C69.96,148.6 72.24,148.25 74.52,147.91 C76.8,147.57 79.08,147.23 81.35,146.89 C83.63,146.55 85.91,146.21 88.19,145.87 C90.47,145.52 92.75,145.18 95.03,144.84 C97.31,144.5 99.59,144.16 101.87,143.82 C104.15,143.48 106.43,143.14 108.71,142.79 C110.99,142.45 113.27,142.11 115.55,141.77 C117.83,141.43 120.11,141.09 122.39,140.75 C124.67,140.41 126.95,140.06 129.23,139.72 C131.51,139.38 133.79,139.04 136.06,138.7 C138.34,138.36 140.62,138.02 142.9,137.68 C145.18,137.33 147.46,136.99 149.74,136.65 C152.02,136.31 154.3,135.97 156.58,135.63 C158.86,135.29 161.14,134.95 163.42,134.6 C165.7,134.26 167.98,133.91 170.26,133.58 C172.54,133.26 174.82,132.94 177.1,132.66 C179.38,132.37 181.66,132.11 183.94,131.88 C186.22,131.64 188.49,131.43 190.77,131.24 C193.05,131.05 195.33,130.88 197.61,130.74 C199.89,130.6 202.17,130.48 204.45,130.38 C206.73,130.29 209.01,130.22 211.29,130.17 C213.57,130.12 216.99,130.11 218.13,130.1" fill="none" stroke="#e8332f" stroke-width="0.95"/><path d="M54,131.83 C55.12,131.81 58.47,131.77 60.7,131.74 C62.94,131.71 65.17,131.69 67.41,131.66 C69.64,131.63 71.88,131.6 74.11,131.57 C76.35,131.54 78.58,131.52 80.82,131.49 C83.05,131.46 85.29,131.43 87.52,131.4 C89.76,131.38 91.99,131.35 94.23,131.32 C96.46,131.29 98.7,131.26 100.93,131.24 C103.17,131.21 105.4,131.18 107.64,131.15 C109.87,131.12 112.11,131.09 114.34,131.07 C116.57,131.04 118.81,131.01 121.04,130.98 C123.28,130.95 125.51,130.93 127.75,130.9 C129.98,130.87 132.22,130.84 134.45,130.81 C136.69,130.78 138.92,130.76 141.16,130.73 C143.39,130.7 145.63,130.67 147.86,130.64 C150.1,130.62 152.33,130.59 154.57,130.56 C156.8,130.53 159.04,130.5 161.27,130.48 C163.51,130.45 165.74,130.42 167.98,130.39 C170.21,130.36 172.45,130.34 174.68,130.31 C176.92,130.29 179.15,130.27 181.38,130.25 C183.62,130.23 185.85,130.21 188.09,130.19 C190.32,130.18 192.56,130.17 194.79,130.15 C197.03,130.14 199.26,130.13 201.5,130.12 C203.73,130.12 205.97,130.11 208.2,130.11 C210.44,130.1 213.79,130.1 214.91,130.1" fill="none" stroke="#1e1e1e" stroke-width="0.95"/><path d="M54,134.85 C55.14,134.8 58.56,134.68 60.84,134.59 C63.12,134.51 65.4,134.43 67.68,134.34 C69.96,134.26 72.24,134.17 74.52,134.09 C76.8,134 79.08,133.92 81.36,133.84 C83.64,133.75 85.92,133.67 88.2,133.58 C90.48,133.5 92.76,133.41 95.04,133.33 C97.32,133.25 99.6,133.16 101.88,133.08 C104.16,132.99 106.44,132.91 108.72,132.83 C111,132.74 113.28,132.66 115.56,132.57 C117.84,132.49 120.12,132.4 122.4,132.32 C124.68,132.24 126.96,132.15 129.24,132.07 C131.52,131.98 133.8,131.9 136.08,131.81 C138.36,131.73 140.64,131.65 142.92,131.56 C145.2,131.48 147.48,131.39 149.76,131.31 C152.04,131.23 154.32,131.15 156.6,131.08 C158.88,131.01 161.16,130.94 163.44,130.88 C165.72,130.81 168,130.75 170.28,130.69 C172.57,130.64 174.85,130.58 177.13,130.54 C179.41,130.49 181.69,130.44 183.97,130.4 C186.25,130.36 188.53,130.33 190.81,130.29 C193.09,130.26 195.37,130.23 197.65,130.21 C199.93,130.18 202.21,130.16 204.49,130.15 C206.77,130.13 209.05,130.12 211.33,130.11 C213.61,130.1 217.03,130.1 218.17,130.1" fill="none" stroke="#45c2d8" stroke-width="0.95"/><path d="M54,109.7 C70,112.08 127.33,121.03 150,124 C172.67,126.97 177.67,126.73 190,127.5 C202.33,128.27 210.43,128.17 224,128.6 C237.57,129.03 263.5,129.85 271.4,130.1" fill="none" stroke="#2f9e44" stroke-width="0.95"/><path d="M54,238.2 C60,234 76.7,223.77 90,213 C103.3,202.23 122.63,184.1 133.8,173.6 C144.97,163.1 149.3,155.85 157,150 C164.7,144.15 172.83,141 180,138.5 C187.17,136 192.67,136 200,135 C207.33,134 214.33,133.32 224,132.5 C233.67,131.68 252.33,130.5 258,130.1" fill="none" stroke="#45c2d8" stroke-width="0.95"/><path d="M54,187.32 C55.16,186.82 58.65,185.32 60.98,184.32 C63.31,183.32 65.64,182.32 67.96,181.32 C70.29,180.32 72.62,179.32 74.95,178.32 C77.27,177.32 79.6,176.32 81.93,175.32 C84.26,174.32 86.58,173.32 88.91,172.32 C91.24,171.32 93.57,170.32 95.89,169.32 C98.22,168.32 100.55,167.32 102.88,166.32 C105.2,165.32 107.53,164.32 109.86,163.32 C112.19,162.32 114.51,161.32 116.84,160.32 C119.17,159.32 121.5,158.32 123.82,157.32 C126.15,156.32 128.48,155.32 130.81,154.32 C133.13,153.32 135.46,152.32 137.79,151.32 C140.12,150.32 142.44,149.32 144.77,148.32 C147.1,147.32 149.43,146.3 151.75,145.32 C154.08,144.34 156.41,143.34 158.74,142.43 C161.06,141.52 163.39,140.65 165.72,139.84 C168.05,139.03 170.37,138.27 172.7,137.56 C175.03,136.85 177.36,136.19 179.68,135.58 C182.01,134.97 184.34,134.41 186.66,133.91 C188.99,133.4 191.32,132.94 193.65,132.54 C195.97,132.13 198.3,131.77 200.63,131.47 C202.96,131.17 205.28,130.91 207.61,130.71 C209.94,130.51 212.27,130.35 214.59,130.25 C216.92,130.15 220.41,130.13 221.58,130.1" fill="none" stroke="#2f4fb0" stroke-width="0.95"/><path d="M54,130.1 C55.11,130.1 58.44,130.1 60.66,130.1 C62.88,130.1 65.11,130.1 67.33,130.1 C69.55,130.1 71.77,130.1 73.99,130.1 C76.21,130.1 78.43,130.1 80.65,130.1 C82.88,130.1 85.1,130.1 87.32,130.1 C89.54,130.1 91.76,130.1 93.98,130.1 C96.2,130.1 98.42,130.1 100.64,130.1 C102.87,130.1 105.09,130.1 107.31,130.1 C109.53,130.1 111.75,130.1 113.97,130.1 C116.19,130.1 118.41,130.1 120.64,130.1 C122.86,130.1 125.08,130.1 127.3,130.1 C129.52,130.1 131.74,130.1 133.96,130.1 C136.18,130.1 138.4,130.1 140.63,130.1 C142.85,130.1 145.07,130.1 147.29,130.1 C149.51,130.1 151.73,130.1 153.95,130.1 C156.17,130.1 158.4,130.1 160.62,130.1 C162.84,130.1 165.06,130.1 167.28,130.1 C169.5,130.1 171.72,130.1 173.94,130.1 C176.16,130.1 178.39,130.1 180.61,130.1 C182.83,130.1 185.05,130.1 187.27,130.1 C189.49,130.1 191.71,130.1 193.93,130.1 C196.15,130.1 198.38,130.1 200.6,130.1 C202.82,130.1 205.04,130.1 207.26,130.1 C209.48,130.1 212.81,130.1 213.92,130.1" fill="none" stroke="#e8332f" stroke-width="0.95"/><path d="M54,128.89 C55.06,128.9 58.24,128.93 60.36,128.95 C62.48,128.97 64.6,128.99 66.72,129.01 C68.84,129.02 70.96,129.04 73.08,129.06 C75.2,129.08 77.33,129.1 79.45,129.12 C81.57,129.14 83.69,129.16 85.81,129.18 C87.93,129.2 90.05,129.21 92.17,129.23 C94.29,129.25 96.41,129.27 98.53,129.29 C100.65,129.31 102.77,129.33 104.89,129.35 C107.01,129.37 109.13,129.39 111.25,129.4 C113.37,129.42 115.49,129.44 117.61,129.46 C119.73,129.48 121.86,129.5 123.98,129.52 C126.1,129.54 128.22,129.56 130.34,129.58 C132.46,129.59 134.58,129.61 136.7,129.63 C138.82,129.65 140.94,129.67 143.06,129.69 C145.18,129.71 147.3,129.73 149.42,129.75 C151.54,129.77 153.66,129.78 155.78,129.8 C157.9,129.82 160.02,129.84 162.14,129.86 C164.27,129.88 166.39,129.9 168.51,129.92 C170.63,129.94 172.75,129.96 174.87,129.97 C176.99,129.99 179.11,130 181.23,130.02 C183.35,130.03 185.47,130.04 187.59,130.05 C189.71,130.06 191.83,130.07 193.95,130.08 C196.07,130.09 198.19,130.09 200.31,130.09 C202.43,130.1 205.61,130.1 206.67,130.1" fill="none" stroke="#e8332f" stroke-width="0.95"/><path d="M54,30.2 C57.83,32.85 69.22,40.78 77,46.1 C84.78,51.42 93.53,57.2 100.7,62.1 C107.87,67 114.4,71.7 120,75.5 C125.6,79.3 130.13,82.07 134.3,84.9 C138.47,87.73 141.65,90.02 145,92.5 C148.35,94.98 150.58,97.42 154.4,99.8 C158.22,102.18 162.3,104.42 167.9,106.8 C173.5,109.18 180.17,111.48 188,114.1 C195.83,116.72 206.23,120.43 214.9,122.5 C223.57,124.57 232.15,125.48 240,126.5 C247.85,127.52 255,128 262,128.6 C269,129.2 278.67,129.85 282,130.1" fill="none" stroke="#b25ab8" stroke-width="0.95"/><path d="M54,167.81 C55.19,167.51 58.76,166.59 61.15,165.97 C63.53,165.36 65.91,164.75 68.29,164.13 C70.67,163.52 73.06,162.91 75.44,162.29 C77.82,161.68 80.2,161.06 82.59,160.45 C84.97,159.84 87.35,159.22 89.73,158.61 C92.11,158 94.5,157.38 96.88,156.77 C99.26,156.16 101.64,155.54 104.02,154.93 C106.41,154.32 108.79,153.7 111.17,153.09 C113.55,152.48 115.94,151.86 118.32,151.25 C120.7,150.64 123.08,150.02 125.46,149.41 C127.85,148.8 130.23,148.18 132.61,147.57 C134.99,146.95 137.37,146.34 139.76,145.73 C142.14,145.11 144.52,144.5 146.9,143.89 C149.28,143.27 151.67,142.66 154.05,142.05 C156.43,141.43 158.81,140.82 161.2,140.21 C163.58,139.59 165.96,138.98 168.34,138.37 C170.72,137.75 173.11,137.12 175.49,136.53 C177.87,135.93 180.25,135.35 182.63,134.82 C185.02,134.3 187.4,133.82 189.78,133.38 C192.16,132.94 194.55,132.55 196.93,132.2 C199.31,131.85 201.69,131.54 204.07,131.28 C206.46,131.02 208.84,130.8 211.22,130.62 C213.6,130.45 215.98,130.32 218.37,130.23 C220.75,130.14 224.32,130.12 225.51,130.1" fill="none" stroke="#45c2d8" stroke-width="0.95"/><path d="M54,154.35 C55.19,154.14 58.77,153.52 61.15,153.11 C63.54,152.7 65.92,152.28 68.31,151.87 C70.69,151.46 73.07,151.04 75.46,150.63 C77.84,150.22 80.23,149.8 82.61,149.39 C84.99,148.98 87.38,148.56 89.76,148.15 C92.15,147.74 94.53,147.32 96.92,146.91 C99.3,146.5 101.68,146.09 104.07,145.67 C106.45,145.26 108.84,144.85 111.22,144.43 C113.61,144.02 115.99,143.61 118.37,143.19 C120.76,142.78 123.14,142.37 125.53,141.95 C127.91,141.54 130.29,141.13 132.68,140.71 C135.06,140.3 137.45,139.89 139.83,139.47 C142.22,139.06 144.6,138.65 146.98,138.23 C149.37,137.82 151.75,137.41 154.14,136.99 C156.52,136.58 158.9,136.16 161.29,135.75 C163.67,135.35 166.06,134.94 168.44,134.57 C170.83,134.2 173.21,133.85 175.59,133.52 C177.98,133.19 180.36,132.89 182.75,132.61 C185.13,132.33 187.52,132.08 189.9,131.85 C192.28,131.61 194.67,131.4 197.05,131.22 C199.44,131.03 201.82,130.87 204.2,130.73 C206.59,130.59 208.97,130.47 211.36,130.38 C213.74,130.29 216.13,130.22 218.51,130.17 C220.89,130.12 224.47,130.11 225.66,130.1" fill="none" stroke="#1e1e1e" stroke-width="0.95"/><path d="M54,83.07 C55.02,83.44 58.09,84.57 60.14,85.31 C62.19,86.06 64.23,86.81 66.28,87.56 C68.33,88.31 70.38,89.06 72.42,89.81 C74.47,90.56 76.52,91.31 78.56,92.06 C80.61,92.81 82.66,93.56 84.7,94.31 C86.75,95.06 88.8,95.81 90.85,96.56 C92.89,97.3 94.94,98.05 96.99,98.8 C99.03,99.55 101.08,100.3 103.13,101.05 C105.17,101.8 107.22,102.55 109.27,103.3 C111.32,104.05 113.36,104.8 115.41,105.55 C117.46,106.3 119.5,107.05 121.55,107.8 C123.6,108.55 125.64,109.29 127.69,110.04 C129.74,110.79 131.79,111.54 133.83,112.29 C135.88,113.04 137.93,113.79 139.97,114.54 C142.02,115.29 144.07,116.04 146.11,116.79 C148.16,117.54 150.21,118.29 152.25,119.04 C154.3,119.79 156.35,120.54 158.4,121.28 C160.44,122.03 162.49,122.82 164.54,123.53 C166.58,124.24 168.63,124.93 170.68,125.54 C172.72,126.14 174.77,126.69 176.82,127.18 C178.87,127.67 180.91,128.09 182.96,128.46 C185.01,128.82 187.05,129.13 189.1,129.37 C191.15,129.61 193.19,129.8 195.24,129.92 C197.29,130.04 200.36,130.07 201.38,130.1" fill="none" stroke="#45c2d8" stroke-width="0.95"/><path d="M54,235.47 C54.82,234.77 57.29,232.65 58.93,231.23 C60.58,229.81 62.22,228.38 63.87,226.95 C65.51,225.51 67.16,224.07 68.8,222.62 C70.45,221.16 72.09,219.7 73.74,218.23 C75.38,216.76 77.03,215.28 78.67,213.79 C80.32,212.3 81.96,210.81 83.6,209.3 C85.25,207.78 86.89,206.26 88.54,204.73 C90.18,203.2 91.83,201.66 93.47,200.1 C95.12,198.54 96.76,196.97 98.41,195.39 C100.05,193.8 101.7,192.2 103.34,190.59 C104.99,188.97 106.63,187.34 108.27,185.69 C109.92,184.04 111.56,182.37 113.21,180.68 C114.85,178.99 116.5,177.29 118.14,175.55 C119.79,173.81 121.43,172.06 123.08,170.26 C124.72,168.47 126.37,166.66 128.01,164.8 C129.66,162.94 131.3,160.99 132.95,159.11 C134.59,157.23 136.23,155.31 137.88,153.53 C139.52,151.75 141.17,150.03 142.81,148.41 C144.46,146.78 146.1,145.23 147.75,143.78 C149.39,142.32 151.04,140.94 152.68,139.67 C154.33,138.4 155.97,137.21 157.62,136.14 C159.26,135.07 160.91,134.09 162.55,133.26 C164.19,132.42 165.84,131.67 167.48,131.14 C169.13,130.62 171.6,130.27 172.42,130.1" fill="none" stroke="#2f9e44" stroke-width="0.95"/><path d="M54,215.19 C54.98,214.57 57.9,212.71 59.85,211.47 C61.8,210.22 63.75,208.97 65.7,207.72 C67.65,206.47 69.6,205.22 71.55,203.96 C73.5,202.7 75.45,201.44 77.41,200.17 C79.36,198.91 81.31,197.64 83.26,196.36 C85.21,195.09 87.16,193.81 89.11,192.53 C91.06,191.25 93.01,189.96 94.96,188.67 C96.91,187.38 98.86,186.08 100.81,184.78 C102.76,183.48 104.71,182.17 106.66,180.86 C108.61,179.55 110.56,178.23 112.51,176.91 C114.46,175.59 116.41,174.26 118.36,172.92 C120.32,171.58 122.27,170.24 124.22,168.89 C126.17,167.53 128.12,166.18 130.07,164.81 C132.02,163.44 133.97,162.06 135.92,160.67 C137.87,159.28 139.82,157.89 141.77,156.48 C143.72,155.06 145.67,153.64 147.62,152.2 C149.57,150.76 151.52,149.28 153.47,147.84 C155.42,146.39 157.37,144.89 159.32,143.55 C161.27,142.21 163.22,140.95 165.18,139.79 C167.13,138.63 169.08,137.55 171.03,136.58 C172.98,135.61 174.93,134.73 176.88,133.96 C178.83,133.19 180.78,132.52 182.73,131.96 C184.68,131.41 186.63,130.94 188.58,130.63 C190.53,130.32 193.46,130.19 194.43,130.1" fill="none" stroke="#b25ab8" stroke-width="0.95"/><path d="M54,136.9 C65,136.55 100.67,135.42 120,134.8 C139.33,134.18 156.67,133.57 170,133.2 C183.33,132.83 190.33,132.7 200,132.6 C209.67,132.5 221,132.4 228,132.6 C235,132.8 236.67,133.85 242,133.8 C247.33,133.75 254.92,132.72 260,132.3 C265.08,131.88 268.83,131.67 272.5,131.3 C276.17,130.93 280.42,130.3 282,130.1" fill="none" stroke="#e8332f" stroke-width="0.95"/><path d="M54,228.1 C60,224.15 76.7,213.37 90,204.4 C103.3,195.43 124.07,181.5 133.8,174.3 C143.53,167.1 144.7,163.92 148.4,161.2 C152.1,158.48 153.07,159.27 156,158 C158.93,156.73 163.02,155.5 166,153.6 C168.98,151.7 171.57,148.78 173.9,146.6 C176.23,144.42 176.48,141.33 180,140.5 C183.52,139.67 188.97,141.08 195,141.6 C201.03,142.12 207.87,143.58 216.2,143.6 C224.53,143.62 235.58,142.53 245,141.7 C254.42,140.87 265.2,139.68 272.7,138.6 C280.2,137.52 284.53,136.62 290,135.2 C295.47,133.78 302.92,130.95 305.5,130.1" fill="none" stroke="#e8332f" stroke-width="0.95"/><path d="M54,122.76 C55.17,122.82 58.66,123 60.99,123.12 C63.32,123.24 65.65,123.36 67.98,123.48 C70.32,123.6 72.65,123.72 74.98,123.84 C77.31,123.96 79.64,124.08 81.97,124.2 C84.3,124.32 86.63,124.44 88.96,124.56 C91.29,124.68 93.62,124.79 95.95,124.91 C98.28,125.03 100.61,125.15 102.95,125.27 C105.28,125.39 107.61,125.51 109.94,125.63 C112.27,125.75 114.6,125.87 116.93,125.99 C119.26,126.11 121.59,126.23 123.92,126.35 C126.25,126.47 128.58,126.59 130.91,126.71 C133.25,126.82 135.58,126.94 137.91,127.06 C140.24,127.18 142.57,127.3 144.9,127.42 C147.23,127.54 149.56,127.66 151.89,127.78 C154.22,127.9 156.55,128.02 158.88,128.14 C161.21,128.26 163.54,128.38 165.88,128.5 C168.21,128.62 170.54,128.74 172.87,128.85 C175.2,128.97 177.53,129.08 179.86,129.19 C182.19,129.29 184.52,129.38 186.85,129.46 C189.18,129.55 191.51,129.63 193.84,129.69 C196.17,129.76 198.51,129.82 200.84,129.87 C203.17,129.92 205.5,129.96 207.83,130 C210.16,130.03 212.49,130.06 214.82,130.07 C217.15,130.09 220.65,130.1 221.81,130.1" fill="none" stroke="#b25ab8" stroke-width="0.95"/><path d="M54,101.79 C55,102.02 57.99,102.69 59.98,103.13 C61.98,103.58 63.97,104.03 65.97,104.47 C67.96,104.92 69.96,105.37 71.95,105.81 C73.95,106.26 75.94,106.71 77.94,107.15 C79.93,107.6 81.93,108.05 83.92,108.49 C85.92,108.94 87.91,109.39 89.91,109.83 C91.9,110.28 93.9,110.73 95.89,111.18 C97.89,111.62 99.88,112.07 101.88,112.52 C103.87,112.96 105.87,113.41 107.86,113.86 C109.86,114.3 111.85,114.75 113.85,115.2 C115.84,115.64 117.83,116.09 119.83,116.54 C121.82,116.98 123.82,117.43 125.81,117.88 C127.81,118.32 129.8,118.77 131.8,119.22 C133.79,119.66 135.79,120.11 137.78,120.56 C139.78,121 141.77,121.45 143.77,121.9 C145.76,122.34 147.76,122.79 149.75,123.24 C151.75,123.68 153.74,124.13 155.74,124.58 C157.73,125.02 159.73,125.48 161.72,125.92 C163.72,126.35 165.71,126.8 167.71,127.19 C169.7,127.58 171.7,127.93 173.69,128.24 C175.69,128.55 177.68,128.82 179.68,129.05 C181.67,129.29 183.66,129.48 185.66,129.63 C187.65,129.79 189.65,129.91 191.64,129.98 C193.64,130.06 196.63,130.08 197.63,130.1" fill="none" stroke="#1e1e1e" stroke-width="0.95"/><path d="M54,116.81 C55.1,116.92 58.42,117.25 60.63,117.47 C62.84,117.69 65.05,117.91 67.26,118.13 C69.47,118.35 71.68,118.57 73.89,118.79 C76.1,119.01 78.31,119.23 80.52,119.45 C82.73,119.67 84.94,119.89 87.15,120.11 C89.36,120.33 91.57,120.55 93.78,120.77 C95.99,120.99 98.2,121.21 100.4,121.43 C102.61,121.65 104.82,121.87 107.03,122.09 C109.24,122.31 111.45,122.53 113.66,122.75 C115.87,122.97 118.08,123.19 120.29,123.41 C122.5,123.63 124.71,123.85 126.92,124.07 C129.13,124.29 131.34,124.51 133.55,124.73 C135.76,124.95 137.97,125.17 140.18,125.39 C142.39,125.61 144.6,125.83 146.81,126.05 C149.02,126.27 151.23,126.49 153.44,126.71 C155.65,126.93 157.86,127.15 160.07,127.37 C162.28,127.58 164.49,127.8 166.7,128 C168.91,128.2 171.12,128.39 173.33,128.56 C175.54,128.73 177.75,128.89 179.96,129.03 C182.17,129.17 184.38,129.3 186.59,129.42 C188.8,129.53 191,129.63 193.21,129.71 C195.42,129.8 197.63,129.87 199.84,129.93 C202.05,129.99 204.26,130.03 206.47,130.06 C208.68,130.09 212,130.09 213.1,130.1" fill="none" stroke="#2f4fb0" stroke-width="0.95"/><path d="M54,127.51 C55.1,127.53 58.41,127.6 60.61,127.64 C62.82,127.69 65.02,127.73 67.23,127.78 C69.43,127.82 71.64,127.86 73.84,127.91 C76.05,127.95 78.25,128 80.46,128.04 C82.66,128.08 84.87,128.13 87.07,128.17 C89.27,128.22 91.48,128.26 93.68,128.3 C95.89,128.35 98.09,128.39 100.3,128.44 C102.5,128.48 104.71,128.52 106.91,128.57 C109.12,128.61 111.32,128.66 113.53,128.7 C115.73,128.74 117.94,128.79 120.14,128.83 C122.35,128.88 124.55,128.92 126.75,128.96 C128.96,129.01 131.16,129.05 133.37,129.1 C135.57,129.14 137.78,129.18 139.98,129.23 C142.19,129.27 144.39,129.32 146.6,129.36 C148.8,129.4 151.01,129.45 153.21,129.49 C155.42,129.54 157.62,129.58 159.82,129.62 C162.03,129.66 164.23,129.7 166.44,129.73 C168.64,129.77 170.85,129.8 173.05,129.83 C175.26,129.86 177.46,129.89 179.67,129.91 C181.87,129.94 184.08,129.96 186.28,129.98 C188.49,130 190.69,130.02 192.9,130.03 C195.1,130.05 197.3,130.06 199.51,130.07 C201.71,130.08 203.92,130.09 206.12,130.09 C208.33,130.1 211.64,130.1 212.74,130.1" fill="none" stroke="#1e1e1e" stroke-width="0.95"/><path d="M54,135.54 C55.1,135.49 58.38,135.36 60.57,135.27 C62.76,135.18 64.95,135.09 67.14,135.01 C69.33,134.92 71.52,134.83 73.71,134.74 C75.9,134.65 78.1,134.56 80.29,134.48 C82.48,134.39 84.67,134.3 86.86,134.21 C89.05,134.12 91.24,134.03 93.43,133.94 C95.62,133.86 97.81,133.77 100,133.68 C102.19,133.59 104.38,133.5 106.57,133.41 C108.76,133.32 110.95,133.24 113.14,133.15 C115.33,133.06 117.52,132.97 119.71,132.88 C121.91,132.79 124.1,132.71 126.29,132.62 C128.48,132.53 130.67,132.44 132.86,132.35 C135.05,132.26 137.24,132.17 139.43,132.09 C141.62,132 143.81,131.91 146,131.82 C148.19,131.73 150.38,131.64 152.57,131.55 C154.76,131.47 156.95,131.38 159.14,131.29 C161.33,131.2 163.52,131.11 165.71,131.02 C167.91,130.94 170.1,130.85 172.29,130.78 C174.48,130.7 176.67,130.63 178.86,130.57 C181.05,130.51 183.24,130.45 185.43,130.4 C187.62,130.35 189.81,130.31 192,130.27 C194.19,130.23 196.38,130.2 198.57,130.18 C200.76,130.15 202.95,130.13 205.14,130.12 C207.33,130.11 210.62,130.1 211.72,130.1" fill="none" stroke="#1e1e1e" stroke-width="0.95"/><path d="M54,220.89 C55.13,220.16 58.53,217.99 60.8,216.53 C63.07,215.07 65.33,213.61 67.6,212.15 C69.87,210.68 72.13,209.21 74.4,207.74 C76.67,206.26 78.93,204.78 81.2,203.3 C83.47,201.81 85.73,200.32 88,198.83 C90.27,197.34 92.53,195.84 94.8,194.33 C97.07,192.82 99.34,191.31 101.6,189.79 C103.87,188.28 106.14,186.75 108.4,185.22 C110.67,183.69 112.94,182.15 115.2,180.6 C117.47,179.06 119.74,177.5 122,175.94 C124.27,174.37 126.54,172.8 128.8,171.22 C131.07,169.64 133.34,168.05 135.6,166.44 C137.87,164.84 140.14,163.22 142.4,161.59 C144.67,159.97 146.94,158.28 149.2,156.7 C151.47,155.11 153.74,153.57 156,152.1 C158.27,150.64 160.54,149.23 162.8,147.9 C165.07,146.56 167.34,145.29 169.6,144.1 C171.87,142.9 174.14,141.76 176.4,140.7 C178.67,139.64 180.94,138.65 183.21,137.74 C185.47,136.82 187.74,135.98 190.01,135.21 C192.27,134.45 194.54,133.75 196.81,133.15 C199.07,132.54 201.34,132.01 203.61,131.57 C205.87,131.13 208.14,130.77 210.41,130.52 C212.67,130.28 216.07,130.17 217.21,130.1" fill="none" stroke="#b25ab8" stroke-width="0.95"/><path d="M54,134.16 C55.11,134.12 58.45,134.02 60.67,133.95 C62.9,133.88 65.12,133.81 67.34,133.74 C69.57,133.67 71.79,133.6 74.02,133.54 C76.24,133.47 78.46,133.4 80.69,133.33 C82.91,133.26 85.13,133.19 87.36,133.12 C89.58,133.05 91.81,132.98 94.03,132.92 C96.25,132.85 98.48,132.78 100.7,132.71 C102.93,132.64 105.15,132.57 107.37,132.5 C109.6,132.43 111.82,132.36 114.05,132.3 C116.27,132.23 118.49,132.16 120.72,132.09 C122.94,132.02 125.16,131.95 127.39,131.88 C129.61,131.81 131.84,131.74 134.06,131.67 C136.28,131.61 138.51,131.54 140.73,131.47 C142.96,131.4 145.18,131.33 147.4,131.26 C149.63,131.19 151.85,131.12 154.08,131.05 C156.3,130.99 158.52,130.92 160.75,130.85 C162.97,130.79 165.19,130.73 167.42,130.68 C169.64,130.62 171.87,130.57 174.09,130.52 C176.31,130.48 178.54,130.43 180.76,130.39 C182.99,130.36 185.21,130.32 187.43,130.29 C189.66,130.26 191.88,130.23 194.11,130.21 C196.33,130.18 198.55,130.16 200.78,130.15 C203,130.13 205.22,130.12 207.45,130.11 C209.67,130.1 213.01,130.1 214.12,130.1" fill="none" stroke="#2f4fb0" stroke-width="0.95"/><path d="M54,140.28 C55.17,140.19 58.69,139.93 61.03,139.75 C63.38,139.57 65.72,139.39 68.07,139.22 C70.41,139.04 72.76,138.86 75.1,138.68 C77.44,138.51 79.79,138.33 82.13,138.15 C84.48,137.97 86.82,137.8 89.17,137.62 C91.51,137.44 93.85,137.26 96.2,137.09 C98.54,136.91 100.89,136.73 103.23,136.55 C105.58,136.37 107.92,136.2 110.27,136.02 C112.61,135.84 114.95,135.66 117.3,135.49 C119.64,135.31 121.99,135.13 124.33,134.95 C126.68,134.78 129.02,134.6 131.37,134.42 C133.71,134.24 136.05,134.06 138.4,133.89 C140.74,133.71 143.09,133.53 145.43,133.35 C147.78,133.18 150.12,133 152.47,132.82 C154.81,132.65 157.15,132.47 159.5,132.3 C161.84,132.14 164.19,131.99 166.53,131.84 C168.88,131.7 171.22,131.56 173.56,131.43 C175.91,131.31 178.25,131.19 180.6,131.08 C182.94,130.97 185.29,130.87 187.63,130.78 C189.98,130.69 192.32,130.61 194.66,130.54 C197.01,130.46 199.35,130.4 201.7,130.34 C204.04,130.29 206.39,130.25 208.73,130.21 C211.08,130.17 213.42,130.15 215.76,130.13 C218.11,130.11 221.63,130.1 222.8,130.1" fill="none" stroke="#2f4fb0" stroke-width="0.95"/><path d="M54,236.42 C55.01,235.62 58.05,233.2 60.07,231.59 C62.1,229.97 64.12,228.34 66.15,226.71 C68.17,225.08 70.2,223.44 72.22,221.79 C74.25,220.14 76.27,218.48 78.3,216.82 C80.32,215.16 82.35,213.48 84.37,211.8 C86.4,210.12 88.42,208.43 90.45,206.73 C92.47,205.03 94.5,203.32 96.52,201.59 C98.55,199.87 100.57,198.14 102.6,196.39 C104.62,194.65 106.65,192.89 108.67,191.12 C110.7,189.35 112.72,187.57 114.75,185.77 C116.77,183.97 118.8,182.15 120.82,180.32 C122.85,178.49 124.87,176.64 126.9,174.77 C128.92,172.89 130.95,171 132.97,169.09 C135,167.18 137.02,165.19 139.05,163.32 C141.07,161.45 143.1,159.62 145.12,157.87 C147.15,156.13 149.17,154.44 151.2,152.83 C153.22,151.22 155.24,149.68 157.27,148.22 C159.29,146.75 161.32,145.36 163.34,144.04 C165.37,142.73 167.39,141.48 169.42,140.33 C171.44,139.17 173.47,138.09 175.49,137.1 C177.52,136.11 179.54,135.2 181.57,134.39 C183.59,133.58 185.62,132.86 187.64,132.25 C189.67,131.65 191.69,131.12 193.72,130.76 C195.74,130.4 198.78,130.21 199.79,130.1" fill="none" stroke="#2f9e44" stroke-width="0.95"/><path d="M54,129.41 C54.96,129.42 57.83,129.43 59.75,129.44 C61.66,129.45 63.58,129.47 65.49,129.48 C67.41,129.49 69.32,129.5 71.24,129.51 C73.15,129.52 75.07,129.53 76.99,129.54 C78.9,129.55 80.82,129.56 82.73,129.58 C84.65,129.59 86.56,129.6 88.48,129.61 C90.39,129.62 92.31,129.63 94.22,129.64 C96.14,129.65 98.06,129.66 99.97,129.68 C101.89,129.69 103.8,129.7 105.72,129.71 C107.63,129.72 109.55,129.73 111.46,129.74 C113.38,129.75 115.3,129.76 117.21,129.78 C119.13,129.79 121.04,129.8 122.96,129.81 C124.87,129.82 126.79,129.83 128.7,129.84 C130.62,129.85 132.53,129.86 134.45,129.88 C136.37,129.89 138.28,129.9 140.2,129.91 C142.11,129.92 144.03,129.93 145.94,129.94 C147.86,129.95 149.77,129.96 151.69,129.98 C153.6,129.99 155.52,130 157.44,130.01 C159.35,130.02 161.27,130.03 163.18,130.04 C165.1,130.04 167.01,130.05 168.93,130.06 C170.84,130.07 172.76,130.07 174.67,130.08 C176.59,130.08 178.51,130.09 180.42,130.09 C182.34,130.09 184.25,130.1 186.17,130.1 C188.08,130.1 190.96,130.1 191.91,130.1" fill="none" stroke="#2f4fb0" stroke-width="0.95"/><path d="M54,165.05 C55.1,164.75 58.4,163.84 60.61,163.24 C62.81,162.63 65.01,162.03 67.21,161.42 C69.41,160.82 71.62,160.21 73.82,159.61 C76.02,159 78.22,158.4 80.42,157.79 C82.63,157.19 84.83,156.58 87.03,155.98 C89.23,155.37 91.43,154.77 93.64,154.16 C95.84,153.56 98.04,152.95 100.24,152.35 C102.44,151.74 104.65,151.14 106.85,150.53 C109.05,149.93 111.25,149.32 113.45,148.72 C115.66,148.11 117.86,147.51 120.06,146.9 C122.26,146.3 124.46,145.69 126.67,145.09 C128.87,144.48 131.07,143.88 133.27,143.27 C135.47,142.67 137.67,142.06 139.88,141.46 C142.08,140.85 144.28,140.24 146.48,139.64 C148.68,139.04 150.89,138.42 153.09,137.85 C155.29,137.28 157.49,136.73 159.69,136.22 C161.9,135.71 164.1,135.23 166.3,134.79 C168.5,134.34 170.7,133.93 172.91,133.54 C175.11,133.16 177.31,132.81 179.51,132.49 C181.71,132.17 183.92,131.89 186.12,131.63 C188.32,131.38 190.52,131.15 192.72,130.96 C194.93,130.77 197.13,130.61 199.33,130.48 C201.53,130.36 203.73,130.26 205.94,130.2 C208.14,130.13 211.44,130.12 212.54,130.1" fill="none" stroke="#1e1e1e" stroke-width="0.95"/><path d="M54,249.6 C60,244.17 75.97,230.88 90,217 C104.03,203.12 127.5,178.28 138.2,166.3 C148.9,154.32 150.57,149.12 154.2,145.1 C157.83,141.08 157.03,143.55 160,142.2 C162.97,140.85 167.67,138.78 172,137 C176.33,135.22 182.17,132.65 186,131.5 C189.83,130.35 193.5,130.33 195,130.1" fill="none" stroke="#2f4fb0" stroke-width="0.95"/><path d="M54,141.58 C55.12,141.48 58.46,141.19 60.7,141 C62.93,140.81 65.16,140.62 67.39,140.42 C69.62,140.23 71.86,140.04 74.09,139.84 C76.32,139.65 78.55,139.46 80.79,139.27 C83.02,139.07 85.25,138.88 87.48,138.69 C89.71,138.5 91.95,138.3 94.18,138.11 C96.41,137.92 98.64,137.73 100.87,137.53 C103.11,137.34 105.34,137.15 107.57,136.96 C109.8,136.76 112.04,136.57 114.27,136.38 C116.5,136.19 118.73,135.99 120.96,135.8 C123.2,135.61 125.43,135.42 127.66,135.22 C129.89,135.03 132.12,134.84 134.36,134.65 C136.59,134.45 138.82,134.26 141.05,134.07 C143.29,133.87 145.52,133.68 147.75,133.49 C149.98,133.3 152.21,133.1 154.45,132.91 C156.68,132.72 158.91,132.52 161.14,132.34 C163.37,132.15 165.61,131.98 167.84,131.81 C170.07,131.65 172.3,131.5 174.54,131.36 C176.77,131.22 179,131.09 181.23,130.97 C183.46,130.86 185.7,130.75 187.93,130.66 C190.16,130.57 192.39,130.48 194.62,130.41 C196.86,130.34 199.09,130.29 201.32,130.24 C203.55,130.19 205.79,130.16 208.02,130.13 C210.25,130.11 213.6,130.11 214.71,130.1" fill="none" stroke="#45c2d8" stroke-width="0.95"/><path d="M54,82.3 C63.33,85.73 94,97.37 110,102.9 C126,108.43 138.62,112.43 150,115.5 C161.38,118.57 169.97,120 178.3,121.3 C186.63,122.6 192.38,122.3 200,123.3 C207.62,124.3 215.67,126.17 224,127.3 C232.33,128.43 245.67,129.63 250,130.1" fill="none" stroke="#45c2d8" stroke-width="0.95"/><line x1="43.5" y1="21.5" x2="316" y2="21.5" stroke="#444" stroke-width="1.1"/><line x1="44" y1="21" x2="44" y2="259" stroke="#555" stroke-width="1.1"/><line x1="315.5" y1="21" x2="315.5" y2="259" stroke="#666" stroke-width="1.1"/><line x1="43.5" y1="258.5" x2="316" y2="258.5" stroke="#666" stroke-width="1.1"/><line x1="60.5" y1="258.8" x2="60.5" y2="264.5" stroke="#4d4d4d" stroke-width="1"/><line x1="60.5" y1="21.3" x2="60.5" y2="18.4" stroke="#4d4d4d" stroke-width="1"/><text x="60.6" y="279.6" text-anchor="middle" font-size="9.45">−10</text><text x="60.6" y="7.7" text-anchor="middle" font-size="9.45">73</text><line x1="115.5" y1="258.8" x2="115.5" y2="264.5" stroke="#4d4d4d" stroke-width="1"/><line x1="115.5" y1="21.3" x2="115.5" y2="18.4" stroke="#4d4d4d" stroke-width="1"/><text x="115.3" y="279.6" text-anchor="middle" font-size="9.45">−8</text><text x="115.3" y="7.7" text-anchor="middle" font-size="9.45">68</text><line x1="170.5" y1="258.8" x2="170.5" y2="264.5" stroke="#4d4d4d" stroke-width="1"/><line x1="170.5" y1="21.3" x2="170.5" y2="18.4" stroke="#4d4d4d" stroke-width="1"/><text x="170" y="279.6" text-anchor="middle" font-size="9.45">−6</text><text x="170" y="7.7" text-anchor="middle" font-size="9.45">41</text><line x1="224.5" y1="258.8" x2="224.5" y2="264.5" stroke="#4d4d4d" stroke-width="1"/><line x1="224.5" y1="21.3" x2="224.5" y2="18.4" stroke="#4d4d4d" stroke-width="1"/><text x="224.7" y="279.6" text-anchor="middle" font-size="9.45">−4</text><text x="224.7" y="7.7" text-anchor="middle" font-size="9.45">14</text><line x1="279.5" y1="258.8" x2="279.5" y2="264.5" stroke="#4d4d4d" stroke-width="1"/><line x1="279.5" y1="21.3" x2="279.5" y2="18.4" stroke="#4d4d4d" stroke-width="1"/><text x="279.4" y="279.6" text-anchor="middle" font-size="9.45">−2</text><text x="279.4" y="7.7" text-anchor="middle" font-size="9.45">3</text><line x1="38.3" y1="216.5" x2="44.5" y2="216.5" stroke="#4d4d4d" stroke-width="1"/><text transform="translate(30.4,216.4) rotate(-90)" text-anchor="middle" font-size="9.45">−10</text><line x1="38.3" y1="173.5" x2="44.5" y2="173.5" stroke="#4d4d4d" stroke-width="1"/><text transform="translate(30.4,173.25) rotate(-90)" text-anchor="middle" font-size="9.45">−5</text><line x1="38.3" y1="130.1" x2="44.5" y2="130.1" stroke="#4d4d4d" stroke-width="1"/><text transform="translate(30.4,130.1) rotate(-90)" text-anchor="middle" font-size="9.45">0</text><line x1="38.3" y1="86.5" x2="44.5" y2="86.5" stroke="#4d4d4d" stroke-width="1"/><text transform="translate(30.4,86.95) rotate(-90)" text-anchor="middle" font-size="9.45">5</text><line x1="38.3" y1="43.5" x2="44.5" y2="43.5" stroke="#4d4d4d" stroke-width="1"/><text transform="translate(30.4,43.8) rotate(-90)" text-anchor="middle" font-size="9.45">10</text><line x1="224.5" y1="23.5" x2="224.5" y2="258.8" stroke="#383838" stroke-width="1" stroke-dasharray="2.5,2.2"/><line x1="272.5" y1="23.5" x2="272.5" y2="258.8" stroke="#383838" stroke-width="1" stroke-dasharray="2.5,2.2"/><text transform="translate(7.8,140.1) rotate(-90)" text-anchor="middle" font-size="9.4">Coefficients</text><text x="214.4" y="298.2" text-anchor="middle" font-size="11.6">Log Lambda</text><text x="329.0" y="261.8" font-size="19.8" font-weight="bold" style="stroke:#000;stroke-width:0.55px">a</text></g><g><path d="M397.6,26.6 V102.2 M395,26.6 H400.2 M395,102.2 H400.2" stroke="#b9b9b9" stroke-width="0.8" fill="none"/><path d="M400.17,29.78 V104.62 M397.57,29.78 H402.77 M397.57,104.62 H402.77" stroke="#b9b9b9" stroke-width="0.8" fill="none"/><path d="M402.74,32.95 V107.05 M400.14,32.95 H405.34 M400.14,107.05 H405.34" stroke="#b9b9b9" stroke-width="0.8" fill="none"/><path d="M405.31,36.13 V109.47 M402.71,36.13 H407.91 M402.71,109.47 H407.91" stroke="#b9b9b9" stroke-width="0.8" fill="none"/><path d="M407.89,39.31 V111.9 M405.29,39.31 H410.49 M405.29,111.9 H410.49" stroke="#b9b9b9" stroke-width="0.8" fill="none"/><path d="M410.46,42.49 V114.32 M407.86,42.49 H413.06 M407.86,114.32 H413.06" stroke="#b9b9b9" stroke-width="0.8" fill="none"/><path d="M413.03,45.66 V116.75 M410.43,45.66 H415.63 M410.43,116.75 H415.63" stroke="#b9b9b9" stroke-width="0.8" fill="none"/><path d="M415.6,48.84 V119.17 M413,48.84 H418.2 M413,119.17 H418.2" stroke="#b9b9b9" stroke-width="0.8" fill="none"/><path d="M418.17,52.02 V121.6 M415.57,52.02 H420.77 M415.57,121.6 H420.77" stroke="#b9b9b9" stroke-width="0.8" fill="none"/><path d="M420.74,55.19 V124.02 M418.14,55.19 H423.34 M418.14,124.02 H423.34" stroke="#b9b9b9" stroke-width="0.8" fill="none"/><path d="M423.31,58.4 V126.42 M420.71,58.4 H425.91 M420.71,126.42 H425.91" stroke="#b9b9b9" stroke-width="0.8" fill="none"/><path d="M425.89,61.65 V128.77 M423.29,61.65 H428.49 M423.29,128.77 H428.49" stroke="#b9b9b9" stroke-width="0.8" fill="none"/><path d="M428.46,64.94 V131.08 M425.86,64.94 H431.06 M425.86,131.08 H431.06" stroke="#b9b9b9" stroke-width="0.8" fill="none"/><path d="M431.03,68.27 V133.36 M428.43,68.27 H433.63 M428.43,133.36 H433.63" stroke="#b9b9b9" stroke-width="0.8" fill="none"/><path d="M433.6,71.64 V135.59 M431,71.64 H436.2 M431,135.59 H436.2" stroke="#b9b9b9" stroke-width="0.8" fill="none"/><path d="M436.17,74.99 V137.84 M433.57,74.99 H438.77 M433.57,137.84 H438.77" stroke="#b9b9b9" stroke-width="0.8" fill="none"/><path d="M438.74,78.3 V140.14 M436.14,78.3 H441.34 M436.14,140.14 H441.34" stroke="#b9b9b9" stroke-width="0.8" fill="none"/><path d="M441.31,81.55 V142.49 M438.71,81.55 H443.91 M438.71,142.49 H443.91" stroke="#b9b9b9" stroke-width="0.8" fill="none"/><path d="M443.89,84.75 V144.89 M441.29,84.75 H446.49 M441.29,144.89 H446.49" stroke="#b9b9b9" stroke-width="0.8" fill="none"/><path d="M446.46,87.89 V147.34 M443.86,87.89 H449.06 M443.86,147.34 H449.06" stroke="#b9b9b9" stroke-width="0.8" fill="none"/><path d="M449.03,91 V149.84 M446.43,91 H451.63 M446.43,149.84 H451.63" stroke="#b9b9b9" stroke-width="0.8" fill="none"/><path d="M451.6,94.11 V152.33 M449,94.11 H454.2 M449,152.33 H454.2" stroke="#b9b9b9" stroke-width="0.8" fill="none"/><path d="M454.17,97.22 V154.82 M451.57,97.22 H456.77 M451.57,154.82 H456.77" stroke="#b9b9b9" stroke-width="0.8" fill="none"/><path d="M456.74,100.33 V157.31 M454.14,100.33 H459.34 M454.14,157.31 H459.34" stroke="#b9b9b9" stroke-width="0.8" fill="none"/><path d="M459.31,103.44 V159.81 M456.71,103.44 H461.91 M456.71,159.81 H461.91" stroke="#b9b9b9" stroke-width="0.8" fill="none"/><path d="M461.89,106.51 V162.35 M459.29,106.51 H464.49 M459.29,162.35 H464.49" stroke="#b9b9b9" stroke-width="0.8" fill="none"/><path d="M464.46,109.53 V164.92 M461.86,109.53 H467.06 M461.86,164.92 H467.06" stroke="#b9b9b9" stroke-width="0.8" fill="none"/><path d="M467.03,112.69 V167.7 M464.43,112.69 H469.63 M464.43,167.7 H469.63" stroke="#b9b9b9" stroke-width="0.8" fill="none"/><path d="M469.6,115.83 V170.55 M467,115.83 H472.2 M467,170.55 H472.2" stroke="#b9b9b9" stroke-width="0.8" fill="none"/><path d="M472.17,118.92 V173.44 M469.57,118.92 H474.77 M469.57,173.44 H474.77" stroke="#b9b9b9" stroke-width="0.8" fill="none"/><path d="M474.74,122.01 V176.35 M472.14,122.01 H477.34 M472.14,176.35 H477.34" stroke="#b9b9b9" stroke-width="0.8" fill="none"/><path d="M477.31,125.12 V179.23 M474.71,125.12 H479.91 M474.71,179.23 H479.91" stroke="#b9b9b9" stroke-width="0.8" fill="none"/><path d="M479.89,128.25 V182.08 M477.29,128.25 H482.49 M477.29,182.08 H482.49" stroke="#b9b9b9" stroke-width="0.8" fill="none"/><path d="M482.46,132.27 V185.75 M479.86,132.27 H485.06 M479.86,185.75 H485.06" stroke="#b9b9b9" stroke-width="0.8" fill="none"/><path d="M485.03,136.34 V189.44 M482.43,136.34 H487.63 M482.43,189.44 H487.63" stroke="#b9b9b9" stroke-width="0.8" fill="none"/><path d="M487.6,140.17 V192.82 M485,140.17 H490.2 M485,192.82 H490.2" stroke="#b9b9b9" stroke-width="0.8" fill="none"/><path d="M490.17,143.96 V196.17 M487.57,143.96 H492.77 M487.57,196.17 H492.77" stroke="#b9b9b9" stroke-width="0.8" fill="none"/><path d="M492.74,148.22 V199.82 M490.14,148.22 H495.34 M490.14,199.82 H495.34" stroke="#b9b9b9" stroke-width="0.8" fill="none"/><path d="M495.31,152.73 V203.43 M492.71,152.73 H497.91 M492.71,203.43 H497.91" stroke="#b9b9b9" stroke-width="0.8" fill="none"/><path d="M497.89,157.36 V206.87 M495.29,157.36 H500.49 M495.29,206.87 H500.49" stroke="#b9b9b9" stroke-width="0.8" fill="none"/><path d="M500.46,161.52 V209.59 M497.86,161.52 H503.06 M497.86,209.59 H503.06" stroke="#b9b9b9" stroke-width="0.8" fill="none"/><path d="M503.03,165.72 V212.27 M500.43,165.72 H505.63 M500.43,212.27 H505.63" stroke="#b9b9b9" stroke-width="0.8" fill="none"/><path d="M505.6,169.95 V214.91 M503,169.95 H508.2 M503,214.91 H508.2" stroke="#b9b9b9" stroke-width="0.8" fill="none"/><path d="M508.17,174.09 V217.66 M505.57,174.09 H510.77 M505.57,217.66 H510.77" stroke="#b9b9b9" stroke-width="0.8" fill="none"/><path d="M510.74,178.11 V220.54 M508.14,178.11 H513.34 M508.14,220.54 H513.34" stroke="#b9b9b9" stroke-width="0.8" fill="none"/><path d="M513.31,181.99 V223.54 M510.71,181.99 H515.91 M510.71,223.54 H515.91" stroke="#b9b9b9" stroke-width="0.8" fill="none"/><path d="M515.89,185.8 V226.63 M513.29,185.8 H518.49 M513.29,226.63 H518.49" stroke="#b9b9b9" stroke-width="0.8" fill="none"/><path d="M518.46,188.25 V228.43 M515.86,188.25 H521.06 M515.86,228.43 H521.06" stroke="#b9b9b9" stroke-width="0.8" fill="none"/><path d="M521.03,190.34 V229.93 M518.43,190.34 H523.63 M518.43,229.93 H523.63" stroke="#b9b9b9" stroke-width="0.8" fill="none"/><path d="M523.6,192.42 V231.48 M521,192.42 H526.2 M521,231.48 H526.2" stroke="#b9b9b9" stroke-width="0.8" fill="none"/><path d="M526.17,194.56 V233.08 M523.57,194.56 H528.77 M523.57,233.08 H528.77" stroke="#b9b9b9" stroke-width="0.8" fill="none"/><path d="M528.74,196.7 V234.67 M526.14,196.7 H531.34 M526.14,234.67 H531.34" stroke="#b9b9b9" stroke-width="0.8" fill="none"/><path d="M531.31,198.18 V235.52 M528.71,198.18 H533.91 M528.71,235.52 H533.91" stroke="#b9b9b9" stroke-width="0.8" fill="none"/><path d="M533.89,199.67 V236.25 M531.29,199.67 H536.49 M531.29,236.25 H536.49" stroke="#b9b9b9" stroke-width="0.8" fill="none"/><path d="M536.46,201.94 V237.77 M533.86,201.94 H539.06 M533.86,237.77 H539.06" stroke="#b9b9b9" stroke-width="0.8" fill="none"/><path d="M539.03,206.62 V241.74 M536.43,206.62 H541.63 M536.43,241.74 H541.63" stroke="#b9b9b9" stroke-width="0.8" fill="none"/><path d="M541.6,209.66 V244.07 M539,209.66 H544.2 M539,244.07 H544.2" stroke="#b9b9b9" stroke-width="0.8" fill="none"/><path d="M544.17,210.56 V244.32 M541.57,210.56 H546.77 M541.57,244.32 H546.77" stroke="#b9b9b9" stroke-width="0.8" fill="none"/><path d="M546.74,211.38 V244.64 M544.14,211.38 H549.34 M544.14,244.64 H549.34" stroke="#b9b9b9" stroke-width="0.8" fill="none"/><path d="M549.31,212.04 V244.86 M546.71,212.04 H551.91 M546.71,244.86 H551.91" stroke="#b9b9b9" stroke-width="0.8" fill="none"/><path d="M551.89,212.63 V245.01 M549.29,212.63 H554.49 M549.29,245.01 H554.49" stroke="#b9b9b9" stroke-width="0.8" fill="none"/><path d="M554.46,213.22 V245.17 M551.86,213.22 H557.06 M551.86,245.17 H557.06" stroke="#b9b9b9" stroke-width="0.8" fill="none"/><path d="M557.03,213.81 V245.33 M554.43,213.81 H559.63 M554.43,245.33 H559.63" stroke="#b9b9b9" stroke-width="0.8" fill="none"/><path d="M559.6,214.39 V245.5 M557,214.39 H562.2 M557,245.5 H562.2" stroke="#b9b9b9" stroke-width="0.8" fill="none"/><path d="M562.17,214.91 V245.59 M559.57,214.91 H564.77 M559.57,245.59 H564.77" stroke="#b9b9b9" stroke-width="0.8" fill="none"/><path d="M564.74,215.48 V245.62 M562.14,215.48 H567.34 M562.14,245.62 H567.34" stroke="#b9b9b9" stroke-width="0.8" fill="none"/><path d="M567.31,216.04 V245.57 M564.71,216.04 H569.91 M564.71,245.57 H569.91" stroke="#b9b9b9" stroke-width="0.8" fill="none"/><path d="M569.89,216.45 V245.24 M567.29,216.45 H572.49 M567.29,245.24 H572.49" stroke="#b9b9b9" stroke-width="0.8" fill="none"/><path d="M572.46,216.9 V244.87 M569.86,216.9 H575.06 M569.86,244.87 H575.06" stroke="#b9b9b9" stroke-width="0.8" fill="none"/><path d="M575.03,217.41 V244.44 M572.43,217.41 H577.63 M572.43,244.44 H577.63" stroke="#b9b9b9" stroke-width="0.8" fill="none"/><path d="M577.6,217.93 V244 M575,217.93 H580.2 M575,244 H580.2" stroke="#b9b9b9" stroke-width="0.8" fill="none"/><path d="M580.17,218.42 V243.54 M577.57,218.42 H582.77 M577.57,243.54 H582.77" stroke="#b9b9b9" stroke-width="0.8" fill="none"/><path d="M582.74,218.66 V242.82 M580.14,218.66 H585.34 M580.14,242.82 H585.34" stroke="#b9b9b9" stroke-width="0.8" fill="none"/><path d="M585.31,218.89 V242.1 M582.71,218.89 H587.91 M582.71,242.1 H587.91" stroke="#b9b9b9" stroke-width="0.8" fill="none"/><path d="M587.89,219.12 V241.38 M585.29,219.12 H590.49 M585.29,241.38 H590.49" stroke="#b9b9b9" stroke-width="0.8" fill="none"/><path d="M590.46,219.32 V240.69 M587.86,219.32 H593.06 M587.86,240.69 H593.06" stroke="#b9b9b9" stroke-width="0.8" fill="none"/><path d="M593.03,219.49 V240.04 M590.43,219.49 H595.63 M590.43,240.04 H595.63" stroke="#b9b9b9" stroke-width="0.8" fill="none"/><path d="M595.6,219.05 V238.84 M593,219.05 H598.2 M593,238.84 H598.2" stroke="#b9b9b9" stroke-width="0.8" fill="none"/><path d="M598.17,218.37 V237.47 M595.57,218.37 H600.77 M595.57,237.47 H600.77" stroke="#b9b9b9" stroke-width="0.8" fill="none"/><path d="M600.74,217.62 V236.1 M598.14,217.62 H603.34 M598.14,236.1 H603.34" stroke="#b9b9b9" stroke-width="0.8" fill="none"/><path d="M603.31,216.43 V234.34 M600.71,216.43 H605.91 M600.71,234.34 H605.91" stroke="#b9b9b9" stroke-width="0.8" fill="none"/><path d="M605.89,215.24 V232.57 M603.29,215.24 H608.49 M603.29,232.57 H608.49" stroke="#b9b9b9" stroke-width="0.8" fill="none"/><path d="M608.46,214.04 V230.82 M605.86,214.04 H611.06 M605.86,230.82 H611.06" stroke="#b9b9b9" stroke-width="0.8" fill="none"/><path d="M611.03,212.71 V228.94 M608.43,212.71 H613.63 M608.43,228.94 H613.63" stroke="#b9b9b9" stroke-width="0.8" fill="none"/><path d="M613.6,211.29 V226.83 M611,211.29 H616.2 M611,226.83 H616.2" stroke="#b9b9b9" stroke-width="0.8" fill="none"/><path d="M616.17,209.92 V224.67 M613.57,209.92 H618.77 M613.57,224.67 H618.77" stroke="#b9b9b9" stroke-width="0.8" fill="none"/><path d="M618.74,207.63 V221.45 M616.14,207.63 H621.34 M616.14,221.45 H621.34" stroke="#b9b9b9" stroke-width="0.8" fill="none"/><path d="M621.31,205.21 V217.95 M618.71,205.21 H623.91 M618.71,217.95 H623.91" stroke="#b9b9b9" stroke-width="0.8" fill="none"/><path d="M623.89,202.27 V213.77 M621.29,202.27 H626.49 M621.29,213.77 H626.49" stroke="#b9b9b9" stroke-width="0.8" fill="none"/><path d="M626.46,199.09 V209.37 M623.86,199.09 H629.06 M623.86,209.37 H629.06" stroke="#b9b9b9" stroke-width="0.8" fill="none"/><path d="M629.03,196.55 V205.69 M626.43,196.55 H631.63 M626.43,205.69 H631.63" stroke="#b9b9b9" stroke-width="0.8" fill="none"/><path d="M631.6,193.41 V201.49 M629,193.41 H634.2 M629,201.49 H634.2" stroke="#b9b9b9" stroke-width="0.8" fill="none"/><path d="M634.17,190.03 V197.14 M631.57,190.03 H636.77 M631.57,197.14 H636.77" stroke="#b9b9b9" stroke-width="0.8" fill="none"/><path d="M636.74,186.27 V192.56 M634.14,186.27 H639.34 M634.14,192.56 H639.34" stroke="#b9b9b9" stroke-width="0.8" fill="none"/><path d="M639.31,181.48 V187.06 M636.71,181.48 H641.91 M636.71,187.06 H641.91" stroke="#b9b9b9" stroke-width="0.8" fill="none"/><path d="M641.89,176.57 V181.48 M639.29,176.57 H644.49 M639.29,181.48 H644.49" stroke="#b9b9b9" stroke-width="0.8" fill="none"/><path d="M644.46,169.39 V173.68 M641.86,169.39 H647.06 M641.86,173.68 H647.06" stroke="#b9b9b9" stroke-width="0.8" fill="none"/><path d="M647.03,163.02 V166.75 M644.43,163.02 H649.63 M644.43,166.75 H649.63" stroke="#b9b9b9" stroke-width="0.8" fill="none"/><path d="M649.6,154.9 V158.1 M647,154.9 H652.2 M647,158.1 H652.2" stroke="#b9b9b9" stroke-width="0.8" fill="none"/><line x1="566.9" y1="17.4" x2="566.9" y2="255.1" stroke="#8a8a8a" stroke-width="0.9" stroke-dasharray="1,1.45"/><line x1="615.7" y1="17.4" x2="615.7" y2="255.1" stroke="#8a8a8a" stroke-width="0.9" stroke-dasharray="1,1.45"/><circle cx="397.6" cy="64.4" r="1.95" fill="#e0101a"/><circle cx="400.17" cy="67.2" r="1.95" fill="#e0101a"/><circle cx="402.74" cy="70" r="1.95" fill="#e0101a"/><circle cx="405.31" cy="72.8" r="1.95" fill="#e0101a"/><circle cx="407.89" cy="75.6" r="1.95" fill="#e0101a"/><circle cx="410.46" cy="78.41" r="1.95" fill="#e0101a"/><circle cx="413.03" cy="81.21" r="1.95" fill="#e0101a"/><circle cx="415.6" cy="84.01" r="1.95" fill="#e0101a"/><circle cx="418.17" cy="86.81" r="1.95" fill="#e0101a"/><circle cx="420.74" cy="89.61" r="1.95" fill="#e0101a"/><circle cx="423.31" cy="92.41" r="1.95" fill="#e0101a"/><circle cx="425.89" cy="95.21" r="1.95" fill="#e0101a"/><circle cx="428.46" cy="98.01" r="1.95" fill="#e0101a"/><circle cx="431.03" cy="100.81" r="1.95" fill="#e0101a"/><circle cx="433.6" cy="103.61" r="1.95" fill="#e0101a"/><circle cx="436.17" cy="106.42" r="1.95" fill="#e0101a"/><circle cx="438.74" cy="109.22" r="1.95" fill="#e0101a"/><circle cx="441.31" cy="112.02" r="1.95" fill="#e0101a"/><circle cx="443.89" cy="114.82" r="1.95" fill="#e0101a"/><circle cx="446.46" cy="117.62" r="1.95" fill="#e0101a"/><circle cx="449.03" cy="120.42" r="1.95" fill="#e0101a"/><circle cx="451.6" cy="123.22" r="1.95" fill="#e0101a"/><circle cx="454.17" cy="126.02" r="1.95" fill="#e0101a"/><circle cx="456.74" cy="128.82" r="1.95" fill="#e0101a"/><circle cx="459.31" cy="131.62" r="1.95" fill="#e0101a"/><circle cx="461.89" cy="134.43" r="1.95" fill="#e0101a"/><circle cx="464.46" cy="137.23" r="1.95" fill="#e0101a"/><circle cx="467.03" cy="140.2" r="1.95" fill="#e0101a"/><circle cx="469.6" cy="143.19" r="1.95" fill="#e0101a"/><circle cx="472.17" cy="146.18" r="1.95" fill="#e0101a"/><circle cx="474.74" cy="149.18" r="1.95" fill="#e0101a"/><circle cx="477.31" cy="152.17" r="1.95" fill="#e0101a"/><circle cx="479.89" cy="155.17" r="1.95" fill="#e0101a"/><circle cx="482.46" cy="159.01" r="1.95" fill="#e0101a"/><circle cx="485.03" cy="162.89" r="1.95" fill="#e0101a"/><circle cx="487.6" cy="166.49" r="1.95" fill="#e0101a"/><circle cx="490.17" cy="170.07" r="1.95" fill="#e0101a"/><circle cx="492.74" cy="174.02" r="1.95" fill="#e0101a"/><circle cx="495.31" cy="178.08" r="1.95" fill="#e0101a"/><circle cx="497.89" cy="182.11" r="1.95" fill="#e0101a"/><circle cx="500.46" cy="185.55" r="1.95" fill="#e0101a"/><circle cx="503.03" cy="188.99" r="1.95" fill="#e0101a"/><circle cx="505.6" cy="192.43" r="1.95" fill="#e0101a"/><circle cx="508.17" cy="195.88" r="1.95" fill="#e0101a"/><circle cx="510.74" cy="199.32" r="1.95" fill="#e0101a"/><circle cx="513.31" cy="202.77" r="1.95" fill="#e0101a"/><circle cx="515.89" cy="206.21" r="1.95" fill="#e0101a"/><circle cx="518.46" cy="208.34" r="1.95" fill="#e0101a"/><circle cx="521.03" cy="210.13" r="1.95" fill="#e0101a"/><circle cx="523.6" cy="211.95" r="1.95" fill="#e0101a"/><circle cx="526.17" cy="213.82" r="1.95" fill="#e0101a"/><circle cx="528.74" cy="215.69" r="1.95" fill="#e0101a"/><circle cx="531.31" cy="216.85" r="1.95" fill="#e0101a"/><circle cx="533.89" cy="217.96" r="1.95" fill="#e0101a"/><circle cx="536.46" cy="219.86" r="1.95" fill="#e0101a"/><circle cx="539.03" cy="224.18" r="1.95" fill="#e0101a"/><circle cx="541.6" cy="226.87" r="1.95" fill="#e0101a"/><circle cx="544.17" cy="227.44" r="1.95" fill="#e0101a"/><circle cx="546.74" cy="228.01" r="1.95" fill="#e0101a"/><circle cx="549.31" cy="228.45" r="1.95" fill="#e0101a"/><circle cx="551.89" cy="228.82" r="1.95" fill="#e0101a"/><circle cx="554.46" cy="229.2" r="1.95" fill="#e0101a"/><circle cx="557.03" cy="229.57" r="1.95" fill="#e0101a"/><circle cx="559.6" cy="229.94" r="1.95" fill="#e0101a"/><circle cx="562.17" cy="230.25" r="1.95" fill="#e0101a"/><circle cx="564.74" cy="230.55" r="1.95" fill="#e0101a"/><circle cx="567.31" cy="230.81" r="1.95" fill="#e0101a"/><circle cx="569.89" cy="230.85" r="1.95" fill="#e0101a"/><circle cx="572.46" cy="230.88" r="1.95" fill="#e0101a"/><circle cx="575.03" cy="230.92" r="1.95" fill="#e0101a"/><circle cx="577.6" cy="230.96" r="1.95" fill="#e0101a"/><circle cx="580.17" cy="230.98" r="1.95" fill="#e0101a"/><circle cx="582.74" cy="230.74" r="1.95" fill="#e0101a"/><circle cx="585.31" cy="230.5" r="1.95" fill="#e0101a"/><circle cx="587.89" cy="230.25" r="1.95" fill="#e0101a"/><circle cx="590.46" cy="230.01" r="1.95" fill="#e0101a"/><circle cx="593.03" cy="229.76" r="1.95" fill="#e0101a"/><circle cx="595.6" cy="228.95" r="1.95" fill="#e0101a"/><circle cx="598.17" cy="227.92" r="1.95" fill="#e0101a"/><circle cx="600.74" cy="226.86" r="1.95" fill="#e0101a"/><circle cx="603.31" cy="225.38" r="1.95" fill="#e0101a"/><circle cx="605.89" cy="223.91" r="1.95" fill="#e0101a"/><circle cx="608.46" cy="222.43" r="1.95" fill="#e0101a"/><circle cx="611.03" cy="220.83" r="1.95" fill="#e0101a"/><circle cx="613.6" cy="219.06" r="1.95" fill="#e0101a"/><circle cx="616.17" cy="217.29" r="1.95" fill="#e0101a"/><circle cx="618.74" cy="214.54" r="1.95" fill="#e0101a"/><circle cx="621.31" cy="211.58" r="1.95" fill="#e0101a"/><circle cx="623.89" cy="208.02" r="1.95" fill="#e0101a"/><circle cx="626.46" cy="204.23" r="1.95" fill="#e0101a"/><circle cx="629.03" cy="201.12" r="1.95" fill="#e0101a"/><circle cx="631.6" cy="197.45" r="1.95" fill="#e0101a"/><circle cx="634.17" cy="193.58" r="1.95" fill="#e0101a"/><circle cx="636.74" cy="189.41" r="1.95" fill="#e0101a"/><circle cx="639.31" cy="184.27" r="1.95" fill="#e0101a"/><circle cx="641.89" cy="179.03" r="1.95" fill="#e0101a"/><circle cx="644.46" cy="171.53" r="1.95" fill="#e0101a"/><circle cx="647.03" cy="164.88" r="1.95" fill="#e0101a"/><circle cx="649.6" cy="156.5" r="1.95" fill="#e0101a"/><rect x="387.5" y="17.5" width="271.7" height="237.3" fill="none" stroke="#6a6a6a" stroke-width="1.1"/><line x1="401.5" y1="255.1" x2="401.5" y2="260.3" stroke="#666" stroke-width="1"/><text x="401.6" y="276.4" text-anchor="middle" font-size="9.45">−10</text><line x1="456.5" y1="255.1" x2="456.5" y2="260.3" stroke="#666" stroke-width="1"/><text x="456.75" y="276.4" text-anchor="middle" font-size="9.45">−8</text><line x1="512.5" y1="255.1" x2="512.5" y2="260.3" stroke="#666" stroke-width="1"/><text x="511.9" y="276.4" text-anchor="middle" font-size="9.45">−6</text><line x1="567.5" y1="255.1" x2="567.5" y2="260.3" stroke="#666" stroke-width="1"/><text x="567.05" y="276.4" text-anchor="middle" font-size="9.45">−4</text><line x1="622.5" y1="255.1" x2="622.5" y2="260.3" stroke="#666" stroke-width="1"/><text x="622.2" y="276.4" text-anchor="middle" font-size="9.45">−2</text><text x="397.5" y="7.6" text-anchor="middle" font-size="9.45">74</text><text x="417.7" y="7.6" text-anchor="middle" font-size="9.45">70</text><text x="438.2" y="7.6" text-anchor="middle" font-size="9.45">68</text><text x="458.8" y="7.6" text-anchor="middle" font-size="9.45">68</text><text x="479.6" y="7.6" text-anchor="middle" font-size="9.45">65</text><text x="499.8" y="7.6" text-anchor="middle" font-size="9.45">51</text><text x="520.3" y="7.6" text-anchor="middle" font-size="9.45">37</text><text x="541.1" y="7.6" text-anchor="middle" font-size="9.45">23</text><text x="561.9" y="7.6" text-anchor="middle" font-size="9.45">17</text><text x="582.3" y="7.6" text-anchor="middle" font-size="9.45">10</text><text x="600.2" y="7.6" text-anchor="middle" font-size="9.45">5</text><text x="615.7" y="7.6" text-anchor="middle" font-size="9.45">3</text><text x="630.6" y="7.6" text-anchor="middle" font-size="9.45">1</text><text x="646.3" y="7.6" text-anchor="middle" font-size="9.45">1</text><line x1="382" y1="247.5" x2="387.5" y2="247.5" stroke="#666" stroke-width="1"/><text transform="translate(373.4,247.8) rotate(-90)" text-anchor="middle" font-size="9.45">0.5</text><line x1="382" y1="195.5" x2="387.5" y2="195.5" stroke="#666" stroke-width="1"/><text transform="translate(373.4,195.2) rotate(-90)" text-anchor="middle" font-size="9.45">1.0</text><line x1="382" y1="142.5" x2="387.5" y2="142.5" stroke="#666" stroke-width="1"/><text transform="translate(373.4,142.6) rotate(-90)" text-anchor="middle" font-size="9.45">1.5</text><line x1="382" y1="90.5" x2="387.5" y2="90.5" stroke="#666" stroke-width="1"/><text transform="translate(373.4,90) rotate(-90)" text-anchor="middle" font-size="9.45">2.0</text><line x1="382" y1="37.5" x2="387.5" y2="37.5" stroke="#666" stroke-width="1"/><text transform="translate(373.4,37.4) rotate(-90)" text-anchor="middle" font-size="9.45">2.5</text><text transform="translate(351.2,136.2) rotate(-90)" text-anchor="middle" font-size="9.45">Binomial Deviance</text><text x="523.3" y="298.5" text-anchor="middle" font-size="9.45">log(Lambda)</text><text x="672.9" y="261.9" font-size="19.8" font-weight="bold" style="stroke:#000;stroke-width:0.55px">b</text></g><g><rect x="0" y="298" width="350" height="298" fill="#fff"/><line x1="82.4" y1="326" x2="82.4" y2="483" stroke="#23449c" stroke-opacity="0.13" stroke-width="0.8"/><path d="M65.5,373.1 V463.2 M62.7,373.1 H68.3 M62.7,463.2 H68.3" stroke="#e4e4e4" stroke-width="0.9" fill="none"/><circle cx="65.3" cy="346.5" r="2.75" fill="#d2d2d2"/><rect x="60.1" y="408.2" width="10.1" height="23.6" fill="#23449c"/><line x1="60.1" y1="418.2" x2="70.2" y2="418.2" stroke="#ffffff" stroke-opacity="0.45" stroke-width="0.9"/><path d="M82.4,356 L82.4,356 C82.33,357.67 82.25,362 82,366 C81.75,370 81.5,375.17 80.9,380 C80.3,384.83 79.4,390.83 78.4,395 C77.4,399.17 75.85,401.67 74.9,405 C73.95,408.33 73,411.67 72.7,415 C72.4,418.33 72.73,421.67 73.1,425 C73.47,428.33 74.18,431.67 74.9,435 C75.62,438.33 76.65,441.67 77.4,445 C78.15,448.33 78.82,451.67 79.4,455 C79.98,458.33 80.4,461.58 80.9,465 C81.4,468.42 82.15,473.75 82.4,475.5 L82.4,475.5 Z" fill="#23449c"/><line x1="110.4" y1="389.5" x2="110.4" y2="572" stroke="#e10a1c" stroke-opacity="0.13" stroke-width="0.8"/><path d="M93.2,423.8 V477.2 M90.4,423.8 H96 M90.4,477.2 H96" stroke="#e4e4e4" stroke-width="0.9" fill="none"/><circle cx="93.2" cy="407.3" r="2.75" fill="#d2d2d2"/><circle cx="93.2" cy="414" r="2.75" fill="#d2d2d2"/><circle cx="93.2" cy="503.8" r="2.75" fill="#d2d2d2"/><circle cx="93.2" cy="538.2" r="2.75" fill="#d2d2d2"/><circle cx="93.2" cy="543.2" r="2.75" fill="#d2d2d2"/><circle cx="93.2" cy="553.6" r="2.75" fill="#d2d2d2"/><rect x="88.2" y="444.4" width="9.8" height="15.2" fill="#e10a1c"/><line x1="88.2" y1="451.7" x2="98" y2="451.7" stroke="#ffffff" stroke-opacity="0.45" stroke-width="0.9"/><path d="M110.4,408.3 L110.4,408.3 C110.03,410.25 109.13,415.22 108.2,420 C107.27,424.78 106.02,432.17 104.8,437 C103.58,441.83 101.52,446 100.9,449 C100.28,452 100.77,452.83 101.1,455 C101.43,457.17 102.1,459.5 102.9,462 C103.7,464.5 104.98,467.33 105.9,470 C106.82,472.67 107.65,475.45 108.4,478 C109.15,480.55 110.07,484.08 110.4,485.3 L110.4,485.3 Z" fill="#e10a1c"/><path d="M110.6,538.6 L110.6,538.6 C110.45,539 109.93,540.18 109.7,541 C109.47,541.82 109.2,542.67 109.2,543.5 C109.2,544.33 109.47,545.2 109.7,546 C109.93,546.8 110.45,547.92 110.6,548.3 L110.6,548.3 Z" fill="#e10a1c"/><line x1="138" y1="326" x2="138" y2="500" stroke="#49b6d6" stroke-opacity="0.13" stroke-width="0.8"/><path d="M121.4,372.3 V468 M118.6,372.3 H124.2 M118.6,468 H124.2" stroke="#e4e4e4" stroke-width="0.9" fill="none"/><circle cx="120.9" cy="352" r="2.75" fill="#d2d2d2"/><circle cx="120.9" cy="354.3" r="2.75" fill="#d2d2d2"/><rect x="116.2" y="410.9" width="9.7" height="30.3" fill="#49b6d6"/><line x1="116.2" y1="430.4" x2="125.9" y2="430.4" stroke="#ffffff" stroke-opacity="0.45" stroke-width="0.9"/><path d="M138,345 L138,345 C137.88,347.5 137.6,355.83 137.3,360 C137,364.17 136.55,366.1 136.2,370 C135.85,373.9 135.67,378.9 135.2,383.4 C134.73,387.9 134,392.52 133.4,397 C132.8,401.48 132.37,405.4 131.6,410.3 C130.83,415.2 129.33,422.45 128.8,426.4 C128.27,430.35 128.33,431.4 128.4,434 C128.47,436.6 128.68,439 129.2,442 C129.72,445 130.78,448.67 131.5,452 C132.22,455.33 132.83,458.67 133.5,462 C134.17,465.33 134.75,468.62 135.5,472 C136.25,475.38 137.58,480.58 138,482.3 L138,482.3 Z" fill="#49b6d6"/><line x1="165.7" y1="391.4" x2="165.7" y2="564.2" stroke="#ee7d1c" stroke-opacity="0.13" stroke-width="0.8"/><path d="M148.8,411.6 V504.2 M146,411.6 H151.6 M146,504.2 H151.6" stroke="#e4e4e4" stroke-width="0.9" fill="none"/><circle cx="148.6" cy="508.4" r="2.75" fill="#d2d2d2"/><circle cx="148.6" cy="510" r="2.75" fill="#d2d2d2"/><circle cx="148.6" cy="543.8" r="2.75" fill="#d2d2d2"/><rect x="144.1" y="444.3" width="9.7" height="25.3" fill="#ee7d1c"/><line x1="144.1" y1="458.4" x2="153.8" y2="458.4" stroke="#ffffff" stroke-opacity="0.45" stroke-width="0.9"/><path d="M165.7,398.2 L165.7,398.2 C165.5,400.17 164.93,405.75 164.5,410 C164.07,414.25 163.7,419.2 163.1,423.7 C162.5,428.2 161.68,432.75 160.9,437 C160.12,441.25 159.23,445.57 158.4,449.2 C157.57,452.83 156.22,456 155.9,458.8 C155.58,461.6 155.9,463.13 156.5,466 C157.1,468.87 158.6,472.5 159.5,476 C160.4,479.5 161.25,483.33 161.9,487 C162.55,490.67 162.95,494.5 163.4,498 C163.85,501.5 164.22,504.57 164.6,508 C164.98,511.43 165.52,516.83 165.7,518.6 L165.7,518.6 Z" fill="#ee7d1c"/><line x1="221.5" y1="366.9" x2="221.5" y2="488" stroke="#23449c" stroke-opacity="0.13" stroke-width="0.8"/><path d="M204.3,420 V466 M201.5,420 H207.1 M201.5,466 H207.1" stroke="#e4e4e4" stroke-width="0.9" fill="none"/><circle cx="204.3" cy="386.2" r="2.75" fill="#d2d2d2"/><circle cx="204.3" cy="389.2" r="2.75" fill="#d2d2d2"/><circle cx="204.3" cy="393" r="2.75" fill="#d2d2d2"/><circle cx="204.3" cy="407.5" r="2.75" fill="#d2d2d2"/><circle cx="204.3" cy="418.9" r="2.75" fill="#d2d2d2"/><circle cx="204.3" cy="435.3" r="2.75" fill="#d2d2d2"/><circle cx="204.3" cy="437.8" r="2.75" fill="#d2d2d2"/><circle cx="204.3" cy="469.4" r="2.75" fill="#d2d2d2"/><rect x="199.3" y="449.9" width="10.6" height="7.2" fill="#23449c"/><line x1="199.3" y1="454" x2="209.9" y2="454" stroke="#ffffff" stroke-opacity="0.45" stroke-width="0.9"/><path d="M221.5,426.8 L221.5,426.8 C221.25,428 220.83,431.47 220,434 C219.17,436.53 217.62,439.67 216.5,442 C215.38,444.33 214.07,446.17 213.3,448 C212.53,449.83 212.03,451.33 211.9,453 C211.77,454.67 211.98,456.17 212.5,458 C213.02,459.83 214.08,462 215,464 C215.92,466 216.92,467.4 218,470 C219.08,472.6 220.92,478 221.5,479.6 L221.5,479.6 Z" fill="#23449c"/><line x1="249.5" y1="340" x2="249.5" y2="567.7" stroke="#e10a1c" stroke-opacity="0.13" stroke-width="0.8"/><path d="M232.2,387.6 V460 M229.4,387.6 H235 M229.4,460 H235" stroke="#e4e4e4" stroke-width="0.9" fill="none"/><circle cx="232.2" cy="361" r="2.75" fill="#d2d2d2"/><circle cx="232.2" cy="371.6" r="2.75" fill="#d2d2d2"/><circle cx="232.2" cy="380" r="2.75" fill="#d2d2d2"/><circle cx="232.2" cy="465.3" r="2.75" fill="#d2d2d2"/><circle cx="232.2" cy="469.8" r="2.75" fill="#d2d2d2"/><circle cx="232.2" cy="496.4" r="2.75" fill="#d2d2d2"/><circle cx="232.2" cy="546.7" r="2.75" fill="#d2d2d2"/><rect x="227.3" y="417.1" width="10.3" height="19.7" fill="#e10a1c"/><line x1="227.3" y1="429.3" x2="237.6" y2="429.3" stroke="#ffffff" stroke-opacity="0.45" stroke-width="0.9"/><path d="M249.5,380 L249.5,380 C249.2,382 248.4,387.83 247.7,392 C247,396.17 246.2,401 245.3,405 C244.4,409 243.18,412.83 242.3,416 C241.42,419.17 240.45,421.5 240,424 C239.55,426.5 239.47,428.67 239.6,431 C239.73,433.33 240.18,435.5 240.8,438 C241.42,440.5 242.48,443.17 243.3,446 C244.12,448.83 244.97,451.67 245.7,455 C246.43,458.33 247.07,462.33 247.7,466 C248.33,469.67 249.2,475.17 249.5,477 L249.5,477 Z" fill="#e10a1c"/><line x1="277.3" y1="353.5" x2="277.3" y2="500.4" stroke="#49b6d6" stroke-opacity="0.13" stroke-width="0.8"/><path d="M260,408.2 V480.4 M257.2,408.2 H262.8 M257.2,480.4 H262.8" stroke="#e4e4e4" stroke-width="0.9" fill="none"/><circle cx="260" cy="372.7" r="2.75" fill="#d2d2d2"/><circle cx="260" cy="383.6" r="2.75" fill="#d2d2d2"/><circle cx="260" cy="404.2" r="2.75" fill="#d2d2d2"/><rect x="255" y="437.7" width="10.2" height="22" fill="#49b6d6"/><line x1="255" y1="450.3" x2="265.2" y2="450.3" stroke="#ffffff" stroke-opacity="0.45" stroke-width="0.9"/><path d="M277.3,397.8 L277.3,397.8 C277.05,399.5 276.4,404.3 275.8,408 C275.2,411.7 274.5,416 273.7,420 C272.9,424 271.87,428.33 271,432 C270.13,435.67 269.13,438.95 268.5,442 C267.87,445.05 267.3,447.63 267.2,450.3 C267.1,452.97 267.45,455.38 267.9,458 C268.35,460.62 269.1,463.33 269.9,466 C270.7,468.67 271.83,471.33 272.7,474 C273.57,476.67 274.33,479.27 275.1,482 C275.87,484.73 276.93,489 277.3,490.4 L277.3,490.4 Z" fill="#49b6d6"/><line x1="305.5" y1="371.8" x2="305.5" y2="519" stroke="#ee7d1c" stroke-opacity="0.13" stroke-width="0.8"/><path d="M288.1,397 V424.2 M285.3,397 H290.9 M285.3,424.2 H290.9" stroke="#e4e4e4" stroke-width="0.9" fill="none"/><circle cx="288" cy="392.4" r="2.75" fill="#d2d2d2"/><circle cx="288" cy="428.2" r="2.75" fill="#d2d2d2"/><circle cx="288" cy="432.6" r="2.75" fill="#d2d2d2"/><circle cx="288" cy="449.5" r="2.75" fill="#d2d2d2"/><circle cx="288" cy="469.4" r="2.75" fill="#d2d2d2"/><circle cx="288" cy="485.6" r="2.75" fill="#d2d2d2"/><circle cx="288" cy="491.2" r="2.75" fill="#d2d2d2"/><circle cx="288" cy="499.2" r="2.75" fill="#d2d2d2"/><rect x="283" y="406.7" width="10.3" height="7.9" fill="#ee7d1c"/><line x1="283" y1="410.7" x2="293.3" y2="410.7" stroke="#ffffff" stroke-opacity="0.45" stroke-width="0.9"/><path d="M305.5,383.6 L305.5,383.6 C305.25,384.67 304.63,387.77 304,390 C303.37,392.23 302.65,394.67 301.7,397 C300.75,399.33 299.27,402 298.3,404 C297.33,406 296.42,407.67 295.9,409 C295.38,410.33 295.17,410.83 295.2,412 C295.23,413.17 295.52,414.33 296.1,416 C296.68,417.67 297.77,420 298.7,422 C299.63,424 300.9,426.33 301.7,428 C302.5,429.67 302.87,430.6 303.5,432 C304.13,433.4 305.17,435.67 305.5,436.4 L305.5,436.4 Z" fill="#ee7d1c"/><line x1="70.2" y1="408.2" x2="199.3" y2="449.9" stroke="#23449c" stroke-width="0.65" stroke-opacity="0.8"/><line x1="70.2" y1="431.8" x2="199.3" y2="457.1" stroke="#23449c" stroke-width="0.65" stroke-opacity="0.8"/><line x1="98" y1="444.4" x2="227.3" y2="417.1" stroke="#e10a1c" stroke-width="0.65" stroke-opacity="0.8"/><line x1="98" y1="459.6" x2="227.3" y2="436.8" stroke="#e10a1c" stroke-width="0.65" stroke-opacity="0.8"/><line x1="125.9" y1="410.9" x2="255" y2="437.7" stroke="#49b6d6" stroke-width="0.65" stroke-opacity="0.8"/><line x1="125.9" y1="441.2" x2="255" y2="459.7" stroke="#49b6d6" stroke-width="0.65" stroke-opacity="0.8"/><line x1="153.8" y1="444.3" x2="283" y2="406.7" stroke="#ee7d1c" stroke-width="0.65" stroke-opacity="0.8"/><line x1="153.8" y1="469.6" x2="283" y2="414.6" stroke="#ee7d1c" stroke-width="0.65" stroke-opacity="0.8"/><path d="M43.3,304.3 V573.6 H322" stroke="#2e2e2e" stroke-width="1" fill="none"/><line x1="40.2" y1="573.63" x2="43.3" y2="573.63" stroke="#2e2e2e" stroke-width="1"/><text x="25.8" y="576.93" font-size="9.2">-6</text><line x1="40.2" y1="528.77" x2="43.3" y2="528.77" stroke="#2e2e2e" stroke-width="1"/><text x="25.8" y="532.07" font-size="9.2">-4</text><line x1="40.2" y1="483.91" x2="43.3" y2="483.91" stroke="#2e2e2e" stroke-width="1"/><text x="25.8" y="487.21" font-size="9.2">-2</text><line x1="40.2" y1="439.05" x2="43.3" y2="439.05" stroke="#2e2e2e" stroke-width="1"/><text x="25.8" y="442.35" font-size="9.2">0</text><line x1="40.2" y1="394.19" x2="43.3" y2="394.19" stroke="#2e2e2e" stroke-width="1"/><text x="25.8" y="397.49" font-size="9.2">2</text><line x1="40.2" y1="349.33" x2="43.3" y2="349.33" stroke="#2e2e2e" stroke-width="1"/><text x="25.8" y="352.63" font-size="9.2">4</text><line x1="40.2" y1="304.47" x2="43.3" y2="304.47" stroke="#2e2e2e" stroke-width="1"/><text x="25.8" y="307.77" font-size="9.2">6</text><line x1="112.5" y1="573.6" x2="112.5" y2="576.6" stroke="#2e2e2e" stroke-width="1"/><line x1="252.5" y1="573.6" x2="252.5" y2="576.6" stroke="#2e2e2e" stroke-width="1"/><text x="62.4" y="593.4" font-size="9.55">Other viral pneumonia</text><text x="189.6" y="593.4" font-size="9.5">COVID-19 pneumonia</text><text x="328.9" y="573.8" font-size="19.8" font-weight="bold" style="stroke:#000;stroke-width:0.55px">c</text></g><g><rect x="359.2" y="381" width="5.7" height="5.5" fill="#23449c"/><text x="367.6" y="386.6" font-size="9.52">wavelet-HHL.firstorder.RootMeanSquared</text><rect x="359.2" y="393.45" width="5.7" height="5.5" fill="#e10a1c"/><text x="367.6" y="399.05" font-size="9.52">wavelet-HHL.glcm.Correlation</text><rect x="359.2" y="405.9" width="5.7" height="5.5" fill="#49b6d6"/><text x="367.6" y="411.5" font-size="9.52">wavelet-LLL.firstorder.10Percentile</text><rect x="359.2" y="418.35" width="5.7" height="5.5" fill="#ee7d1c"/><text x="367.6" y="423.95" font-size="9.52">Radiomics score</text></g></svg>
</body></html>
